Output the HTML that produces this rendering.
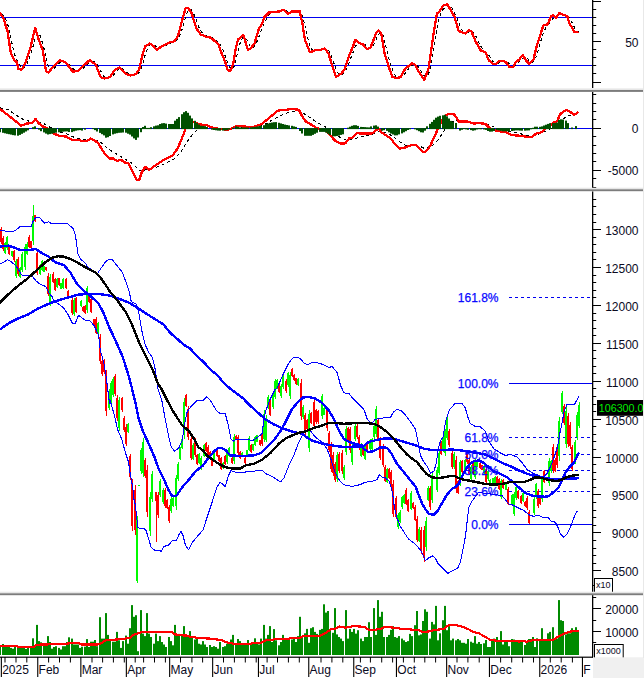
<!DOCTYPE html><html><head><meta charset="utf-8"><title>Chart</title><style>html,body{margin:0;padding:0;background:#fff;overflow:hidden}svg{display:block;position:absolute;left:0;top:0}</style></head><body><svg width="644" height="678" viewBox="0 0 644 678">
<rect width="644" height="678" fill="#fff"/>
<g clip-path="url(#c1)">
<defs><clipPath id="c1"><rect x="0" y="0" width="592" height="88"/></clipPath><clipPath id="c2"><rect x="0" y="92" width="592" height="96"/></clipPath><clipPath id="c3"><rect x="0" y="192" width="592" height="400"/></clipPath><clipPath id="c4"><rect x="0" y="596" width="592" height="60"/></clipPath></defs>
<line x1="0" y1="17.5" x2="592" y2="17.5" stroke="#0000f0" stroke-width="1"/>
<line x1="0" y1="65.5" x2="592" y2="65.5" stroke="#0000f0" stroke-width="1"/>
<path d="M1.1,14.0 L3.3,15.8 L5.4,18.4 L7.6,23.9 L9.7,32.6 L11.9,43.1 L14.0,52.7 L16.2,58.6 L18.4,62.7 L20.5,66.1 L22.7,68.5 L24.8,67.6 L27.0,64.2 L29.1,58.9 L31.3,52.4 L33.5,44.7 L35.6,36.5 L37.8,33.3 L39.9,35.2 L42.1,41.7 L44.2,49.1 L46.4,58.8 L48.6,67.0 L50.7,71.2 L52.9,70.0 L55.0,67.6 L57.2,65.3 L59.3,63.0 L61.5,61.6 L63.7,61.1 L65.8,61.5 L68.0,62.9 L70.1,65.0 L72.3,67.8 L74.4,70.0 L76.6,71.1 L78.8,71.0 L80.9,70.0 L83.1,68.4 L85.2,66.4 L87.4,64.4 L89.5,62.4 L91.7,61.4 L93.9,61.6 L96.0,63.1 L98.2,66.0 L100.3,70.3 L102.5,74.5 L104.6,77.2 L106.8,78.0 L108.9,78.0 L111.1,77.2 L113.3,75.3 L115.4,72.8 L117.6,70.4 L119.7,68.7 L121.9,68.6 L124.0,69.8 L126.2,71.9 L128.4,73.5 L130.5,74.6 L132.7,75.0 L134.8,75.0 L137.0,74.2 L139.1,72.4 L141.3,68.0 L143.5,61.3 L145.6,53.4 L147.8,48.0 L149.9,44.9 L152.1,44.5 L154.2,45.0 L156.4,46.8 L158.6,48.1 L160.7,48.3 L162.9,47.2 L165.0,45.9 L167.2,44.8 L169.3,43.7 L171.5,42.9 L173.7,42.1 L175.8,41.1 L178.0,39.2 L180.1,35.1 L182.3,28.8 L184.4,21.1 L186.6,14.1 L188.8,10.0 L190.9,9.5 L193.1,12.4 L195.2,17.4 L197.4,23.4 L199.5,28.6 L201.7,32.2 L203.9,34.3 L206.0,35.7 L208.2,36.4 L210.3,37.1 L212.5,37.8 L214.6,39.0 L216.8,40.8 L219.0,42.9 L221.1,46.3 L223.3,50.9 L225.4,56.5 L227.6,62.5 L229.7,67.1 L231.9,69.3 L234.1,66.4 L236.2,58.8 L238.4,49.3 L240.5,41.7 L242.7,37.7 L244.8,37.4 L247.0,40.1 L249.2,44.7 L251.3,47.7 L253.5,47.4 L255.6,44.6 L257.8,39.8 L259.9,34.0 L262.1,28.3 L264.3,23.3 L266.4,19.2 L268.6,15.6 L270.7,13.6 L272.9,12.6 L275.0,12.2 L277.2,12.0 L279.4,11.7 L281.5,11.3 L283.7,10.7 L285.8,10.7 L288.0,11.6 L290.1,12.5 L292.3,12.6 L294.5,11.9 L296.6,11.4 L298.8,11.4 L300.9,12.7 L303.1,17.5 L305.2,27.0 L307.4,37.0 L309.6,45.2 L311.7,49.2 L313.9,51.0 L316.0,50.9 L318.2,50.4 L320.3,50.2 L322.5,49.9 L324.7,49.4 L326.8,49.6 L329.0,51.2 L331.1,55.4 L333.3,61.1 L335.4,67.8 L337.6,72.7 L339.7,75.0 L341.9,74.6 L344.1,72.7 L346.2,69.5 L348.4,64.7 L350.5,58.9 L352.7,53.2 L354.8,47.7 L357.0,43.7 L359.2,42.0 L361.3,42.5 L363.5,43.8 L365.6,45.2 L367.8,46.9 L369.9,48.0 L372.1,47.1 L374.3,43.8 L376.4,38.8 L378.6,34.4 L380.7,32.2 L382.9,34.9 L385.0,42.5 L387.2,51.9 L389.4,60.7 L391.5,67.4 L393.7,72.9 L395.8,76.3 L398.0,77.5 L400.1,77.6 L402.3,76.5 L404.5,74.1 L406.6,71.1 L408.8,68.3 L410.9,66.1 L413.1,64.7 L415.2,64.2 L417.4,65.7 L419.6,68.6 L421.7,72.3 L423.9,75.6 L426.0,76.7 L428.2,75.0 L430.3,68.2 L432.5,57.3 L434.7,43.4 L436.8,29.3 L439.0,18.9 L441.1,12.4 L443.3,9.1 L445.4,6.7 L447.6,5.1 L449.8,5.8 L451.9,8.1 L454.1,11.7 L456.2,16.2 L458.4,22.0 L460.5,27.4 L462.7,31.0 L464.9,32.4 L467.0,32.6 L469.2,31.9 L471.3,31.1 L473.5,32.2 L475.6,35.7 L477.8,40.3 L480.0,44.7 L482.1,48.1 L484.3,50.4 L486.4,52.1 L488.6,54.8 L490.7,58.1 L492.9,61.3 L495.1,62.9 L497.2,63.4 L499.4,62.7 L501.5,61.8 L503.7,61.0 L505.8,61.3 L508.0,62.5 L510.2,64.4 L512.3,65.9 L514.5,66.2 L516.6,64.5 L518.8,62.4 L520.9,59.8 L523.1,57.7 L525.3,57.2 L527.4,58.5 L529.6,61.3 L531.7,62.3 L533.9,61.5 L536.0,57.0 L538.2,50.5 L540.3,42.7 L542.5,35.6 L544.7,29.9 L546.8,26.3 L549.0,24.0 L551.1,21.2 L553.3,18.2 L555.4,16.4 L557.6,16.2 L559.8,15.4 L561.9,14.5 L564.1,14.1 L566.2,14.9 L568.4,16.5 L570.5,19.7 L572.7,24.0 L574.9,28.4 L577.0,30.9 L579.2,32.0" fill="none" stroke="#000" stroke-width="1.05" stroke-dasharray="3,3" shape-rendering="crispEdges"/>
<path d="M0.0,12.6 L3.4,18.4 L7.5,31.0 L10.9,53.7 L14.3,60.4 L16.8,62.0 L18.4,69.0 L21.8,69.6 L25.2,63.7 L30.2,48.6 L35.2,27.7 L38.6,39.4 L42.8,50.3 L46.1,71.3 L48.6,72.4 L53.7,66.2 L59.5,60.4 L65.4,62.0 L72.9,71.8 L78.0,70.8 L83.9,65.4 L89.7,60.0 L95.6,64.6 L100.6,77.1 L104.8,78.5 L110.1,77.1 L114.3,70.4 L119.3,67.4 L125.2,73.5 L130.2,75.5 L136.1,74.1 L139.4,68.8 L141.9,57.0 L145.3,46.1 L149.8,43.6 L153.7,46.1 L156.7,49.8 L162.0,46.1 L168.8,42.8 L174.6,41.1 L178.0,36.0 L182.2,20.1 L185.5,8.4 L188.0,8.0 L191.4,12.6 L196.4,28.5 L200.6,34.4 L205.7,36.6 L210.9,37.7 L218.4,44.4 L221.8,53.7 L225.2,62.0 L227.7,70.4 L231.0,70.4 L233.5,62.0 L236.0,47.0 L238.2,39.4 L243.3,34.9 L245.3,41.1 L247.8,49.8 L250.3,48.6 L254.5,43.6 L258.7,29.3 L262.0,23.5 L264.6,16.8 L268.8,12.6 L273.8,12.1 L279.7,11.4 L283.9,9.7 L288.0,13.8 L292.2,11.4 L299.8,11.4 L302.4,23.5 L305.0,40.2 L310.0,52.3 L315.9,50.0 L320.1,50.3 L324.7,48.3 L328.5,53.7 L332.7,67.1 L336.0,76.8 L341.0,73.8 L344.4,69.6 L348.6,57.0 L352.8,47.0 L355.3,39.9 L358.7,42.8 L362.9,44.4 L367.0,49.0 L370.4,47.8 L373.8,39.4 L376.3,32.7 L378.8,30.5 L381.3,33.5 L384.7,53.7 L388.9,67.1 L392.2,76.8 L396.4,78.0 L400.6,77.1 L405.0,69.1 L411.7,63.4 L415.1,64.6 L418.4,71.3 L424.3,79.7 L428.5,68.8 L431.9,45.3 L434.4,28.5 L436.9,13.4 L439.4,11.7 L442.8,5.9 L447.0,4.2 L450.3,9.2 L454.5,16.8 L458.7,31.0 L465.4,33.5 L468.8,30.2 L471.3,31.0 L475.5,41.1 L480.5,50.3 L485.5,52.3 L488.9,60.4 L493.1,63.7 L496.4,63.7 L498.9,61.2 L503.1,60.7 L506.7,62.9 L509.2,66.7 L513.4,66.7 L515.9,62.0 L519.3,59.5 L522.6,55.0 L526.0,60.4 L529.3,63.7 L533.5,59.5 L536.9,45.3 L540.2,35.2 L543.3,25.5 L547.8,24.3 L551.2,15.9 L552.8,15.4 L556.2,17.6 L559.5,13.1 L562.9,14.8 L567.1,15.9 L569.6,23.5 L574.6,32.2 L578.5,31.9" fill="none" stroke="#ff0000" stroke-width="2.3" stroke-linejoin="round" shape-rendering="crispEdges"/>
</g>
<g clip-path="url(#c2)">
<line x1="0" y1="128.5" x2="592" y2="128.5" stroke="#0000f0" stroke-width="1"/>
<path d="M0.0,107.8 L8.4,109.8 L16.8,115.7 L25.2,120.7 L33.5,121.5 L41.9,122.4 L50.3,127.4 L58.7,131.6 L67.1,134.1 L75.5,138.0 L83.9,139.7 L92.2,139.2 L100.0,141.7 L108.4,149.2 L116.8,154.2 L125.2,159.3 L133.5,164.3 L140.2,171.0 L145.3,169.8 L153.7,168.5 L163.7,164.3 L173.8,159.3 L180.5,152.6 L187.2,141.7 L192.2,135.0 L196.4,130.8 L200.6,127.9 L210.0,127.4 L220.0,128.2 L230.2,129.1 L238.6,127.4 L250.3,126.9 L260.4,126.2 L267.1,123.2 L273.8,119.0 L280.5,115.7 L287.2,112.8 L293.9,111.1 L300.6,111.5 L308.4,116.5 L316.8,122.4 L323.5,125.7 L331.9,130.8 L340.2,137.5 L347.0,140.3 L353.7,139.2 L360.4,136.6 L370.4,135.3 L377.1,131.9 L383.9,131.9 L392.2,135.8 L400.6,142.5 L406.7,145.9 L416.8,145.0 L425.2,148.7 L431.9,145.9 L438.6,139.2 L445.3,129.1 L450.3,122.4 L455.3,120.2 L463.7,121.2 L473.8,122.4 L485.5,123.2 L492.2,126.2 L500.6,129.6 L508.4,131.6 L516.8,132.9 L526.8,135.3 L535.2,135.0 L541.9,132.9 L548.6,130.0 L555.3,125.7 L562.0,119.9 L567.1,116.2 L572.1,114.8 L577.1,114.5" fill="none" stroke="#000" stroke-width="1.05" stroke-dasharray="3,3" shape-rendering="crispEdges"/>
<path d="M0.0,109.0 L7.5,114.8 L15.1,120.7 L21.0,125.7 L26.8,123.6 L31.9,122.9 L35.6,119.0 L38.6,123.2 L43.6,126.9 L48.6,129.1 L53.7,133.6 L59.5,135.8 L66.2,136.6 L72.1,140.0 L78.8,140.0 L82.2,141.3 L87.2,140.8 L90.6,138.6 L93.9,140.0 L98.1,143.0 L102.3,150.0 L105.0,154.2 L109.2,158.4 L113.4,158.4 L116.8,161.0 L121.0,159.8 L125.2,162.6 L128.5,163.5 L132.7,171.9 L136.9,179.9 L139.4,179.4 L141.9,171.9 L145.3,166.8 L149.5,169.8 L154.5,166.0 L159.5,162.6 L164.6,159.3 L168.8,157.6 L173.0,155.1 L177.1,149.2 L181.3,140.0 L183.9,133.3 L185.5,128.2 L187.2,124.0 L190.0,121.0 L193.9,122.4 L199.8,124.5 L205.9,124.9 L211.7,127.4 L220.1,129.1 L227.7,129.6 L232.7,128.2 L236.9,125.7 L243.6,126.6 L253.7,126.9 L262.0,124.0 L268.8,118.2 L278.0,110.6 L285.5,109.8 L292.2,109.0 L298.9,109.8 L302.3,116.5 L305.9,121.5 L311.7,124.9 L316.8,128.2 L325.2,130.5 L328.5,133.3 L335.2,140.8 L341.1,143.7 L345.3,143.3 L349.5,138.0 L352.8,137.5 L357.0,133.3 L367.1,133.6 L373.0,133.3 L376.3,129.6 L378.8,129.1 L382.2,132.9 L390.6,138.3 L395.6,145.0 L399.8,148.7 L405.0,147.5 L411.7,145.0 L415.9,145.0 L420.1,149.2 L423.5,152.1 L426.0,151.4 L430.2,145.9 L434.4,136.6 L438.6,127.4 L442.0,120.0 L446.1,114.8 L449.5,114.0 L454.5,114.5 L458.7,121.5 L467.1,121.5 L473.8,123.6 L478.8,122.9 L485.5,124.0 L490.6,129.1 L495.6,130.5 L502.3,131.9 L506.7,132.4 L511.7,135.0 L520.1,135.8 L528.5,137.0 L532.7,136.6 L536.0,133.6 L541.1,132.4 L544.4,129.6 L549.0,126.0 L553.7,122.4 L557.0,121.2 L560.4,114.0 L566.2,109.8 L569.6,111.5 L573.8,114.5 L576.3,114.0 L578.5,111.8" fill="none" stroke="#ff0000" stroke-width="2.3" stroke-linejoin="round" shape-rendering="crispEdges"/>
<rect x="-1" y="128.1" width="2" height="4.1" fill="#005000"/>
<rect x="2" y="128.1" width="2" height="4.7" fill="#005000"/>
<rect x="4" y="128.1" width="2" height="5.2" fill="#005000"/>
<rect x="6" y="128.1" width="2" height="5.7" fill="#005000"/>
<rect x="8" y="128.1" width="2" height="6.1" fill="#005000"/>
<rect x="10" y="128.1" width="2" height="6.5" fill="#005000"/>
<rect x="12" y="128.1" width="2" height="7.0" fill="#005000"/>
<rect x="14" y="128.1" width="2" height="7.3" fill="#005000"/>
<rect x="17" y="128.1" width="2" height="7.6" fill="#005000"/>
<rect x="19" y="128.1" width="2" height="6.8" fill="#005000"/>
<rect x="21" y="128.1" width="2" height="5.7" fill="#005000"/>
<rect x="23" y="128.1" width="2" height="4.6" fill="#005000"/>
<rect x="25" y="128.1" width="2" height="3.4" fill="#005000"/>
<rect x="27" y="128.1" width="2" height="2.2" fill="#005000"/>
<rect x="32" y="127.2" width="2" height="1.9" fill="#005000"/>
<rect x="34" y="126.3" width="2" height="2.8" fill="#005000"/>
<rect x="38" y="128.1" width="2" height="1.6" fill="#005000"/>
<rect x="40" y="128.1" width="2" height="3.1" fill="#005000"/>
<rect x="43" y="128.1" width="2" height="4.3" fill="#005000"/>
<rect x="45" y="128.1" width="2" height="5.5" fill="#005000"/>
<rect x="47" y="128.1" width="2" height="6.4" fill="#005000"/>
<rect x="49" y="128.1" width="2" height="6.0" fill="#005000"/>
<rect x="51" y="128.1" width="2" height="5.6" fill="#005000"/>
<rect x="53" y="128.1" width="2" height="5.1" fill="#005000"/>
<rect x="55" y="128.1" width="2" height="4.6" fill="#005000"/>
<rect x="58" y="128.1" width="2" height="4.2" fill="#005000"/>
<rect x="60" y="128.1" width="2" height="3.9" fill="#005000"/>
<rect x="62" y="128.1" width="2" height="3.6" fill="#005000"/>
<rect x="64" y="128.1" width="2" height="3.4" fill="#005000"/>
<rect x="66" y="128.1" width="2" height="3.3" fill="#005000"/>
<rect x="68" y="128.1" width="2" height="3.9" fill="#005000"/>
<rect x="71" y="128.1" width="2" height="4.0" fill="#005000"/>
<rect x="73" y="128.1" width="2" height="3.2" fill="#005000"/>
<rect x="75" y="128.1" width="2" height="2.6" fill="#005000"/>
<rect x="77" y="128.1" width="2" height="2.2" fill="#005000"/>
<rect x="79" y="128.1" width="2" height="2.0" fill="#005000"/>
<rect x="81" y="128.1" width="2" height="2.5" fill="#005000"/>
<rect x="84" y="128.1" width="2" height="1.6" fill="#005000"/>
<rect x="92" y="128.1" width="2" height="1.0" fill="#005000"/>
<rect x="94" y="128.1" width="2" height="2.0" fill="#005000"/>
<rect x="96" y="128.1" width="2" height="3.4" fill="#005000"/>
<rect x="99" y="128.1" width="2" height="4.8" fill="#005000"/>
<rect x="101" y="128.1" width="2" height="6.1" fill="#005000"/>
<rect x="103" y="128.1" width="2" height="7.3" fill="#005000"/>
<rect x="105" y="128.1" width="2" height="9.6" fill="#005000"/>
<rect x="107" y="128.1" width="2" height="9.1" fill="#005000"/>
<rect x="109" y="128.1" width="2" height="7.9" fill="#005000"/>
<rect x="112" y="128.1" width="2" height="6.3" fill="#005000"/>
<rect x="114" y="128.1" width="2" height="5.6" fill="#005000"/>
<rect x="116" y="128.1" width="2" height="5.1" fill="#005000"/>
<rect x="118" y="128.1" width="2" height="4.7" fill="#005000"/>
<rect x="120" y="128.1" width="2" height="4.6" fill="#005000"/>
<rect x="122" y="128.1" width="2" height="4.4" fill="#005000"/>
<rect x="125" y="128.1" width="2" height="4.6" fill="#005000"/>
<rect x="127" y="128.1" width="2" height="5.6" fill="#005000"/>
<rect x="129" y="128.1" width="2" height="6.5" fill="#005000"/>
<rect x="131" y="128.1" width="2" height="8.4" fill="#005000"/>
<rect x="133" y="128.1" width="2" height="10.3" fill="#005000"/>
<rect x="135" y="128.1" width="2" height="11.8" fill="#005000"/>
<rect x="137" y="128.1" width="2" height="9.4" fill="#005000"/>
<rect x="140" y="128.1" width="2" height="4.1" fill="#005000"/>
<rect x="142" y="127.0" width="2" height="2.1" fill="#005000"/>
<rect x="144" y="125.8" width="2" height="3.3" fill="#005000"/>
<rect x="146" y="127.9" width="2" height="1.2" fill="#005000"/>
<rect x="148" y="127.9" width="2" height="1.2" fill="#005000"/>
<rect x="150" y="127.2" width="2" height="1.9" fill="#005000"/>
<rect x="153" y="126.3" width="2" height="2.8" fill="#005000"/>
<rect x="155" y="125.6" width="2" height="3.5" fill="#005000"/>
<rect x="157" y="125.3" width="2" height="3.8" fill="#005000"/>
<rect x="159" y="124.0" width="2" height="5.1" fill="#005000"/>
<rect x="161" y="123.3" width="2" height="5.8" fill="#005000"/>
<rect x="163" y="123.1" width="2" height="6.0" fill="#005000"/>
<rect x="165" y="123.6" width="2" height="5.5" fill="#005000"/>
<rect x="168" y="124.0" width="2" height="5.1" fill="#005000"/>
<rect x="170" y="124.0" width="2" height="5.1" fill="#005000"/>
<rect x="172" y="124.0" width="2" height="5.1" fill="#005000"/>
<rect x="174" y="120.7" width="2" height="8.4" fill="#005000"/>
<rect x="176" y="118.9" width="2" height="10.2" fill="#005000"/>
<rect x="178" y="117.1" width="2" height="12.0" fill="#005000"/>
<rect x="181" y="114.2" width="2" height="14.9" fill="#005000"/>
<rect x="183" y="112.2" width="2" height="16.9" fill="#005000"/>
<rect x="185" y="111.1" width="2" height="18.0" fill="#005000"/>
<rect x="187" y="112.8" width="2" height="16.3" fill="#005000"/>
<rect x="189" y="115.6" width="2" height="13.5" fill="#005000"/>
<rect x="191" y="118.4" width="2" height="10.7" fill="#005000"/>
<rect x="194" y="120.8" width="2" height="8.3" fill="#005000"/>
<rect x="196" y="122.9" width="2" height="6.2" fill="#005000"/>
<rect x="198" y="124.5" width="2" height="4.6" fill="#005000"/>
<rect x="200" y="125.8" width="2" height="3.3" fill="#005000"/>
<rect x="202" y="125.9" width="2" height="3.2" fill="#005000"/>
<rect x="204" y="126.1" width="2" height="3.0" fill="#005000"/>
<rect x="206" y="127.1" width="2" height="2.0" fill="#005000"/>
<rect x="211" y="128.1" width="2" height="1.6" fill="#005000"/>
<rect x="213" y="128.1" width="2" height="1.9" fill="#005000"/>
<rect x="215" y="128.1" width="2" height="2.2" fill="#005000"/>
<rect x="217" y="128.1" width="2" height="2.5" fill="#005000"/>
<rect x="219" y="128.1" width="2" height="2.6" fill="#005000"/>
<rect x="222" y="128.1" width="2" height="2.5" fill="#005000"/>
<rect x="224" y="128.1" width="2" height="2.3" fill="#005000"/>
<rect x="226" y="128.1" width="2" height="2.1" fill="#005000"/>
<rect x="228" y="128.1" width="2" height="1.4" fill="#005000"/>
<rect x="232" y="127.7" width="2" height="1.4" fill="#005000"/>
<rect x="235" y="126.3" width="2" height="2.8" fill="#005000"/>
<rect x="237" y="126.8" width="2" height="2.3" fill="#005000"/>
<rect x="239" y="127.4" width="2" height="1.7" fill="#005000"/>
<rect x="241" y="127.4" width="2" height="1.7" fill="#005000"/>
<rect x="243" y="127.4" width="2" height="1.7" fill="#005000"/>
<rect x="245" y="127.4" width="2" height="1.7" fill="#005000"/>
<rect x="247" y="127.4" width="2" height="1.7" fill="#005000"/>
<rect x="250" y="127.3" width="2" height="1.8" fill="#005000"/>
<rect x="252" y="127.1" width="2" height="2.0" fill="#005000"/>
<rect x="254" y="126.8" width="2" height="2.3" fill="#005000"/>
<rect x="256" y="126.5" width="2" height="2.6" fill="#005000"/>
<rect x="258" y="126.2" width="2" height="2.9" fill="#005000"/>
<rect x="260" y="125.9" width="2" height="3.2" fill="#005000"/>
<rect x="263" y="125.2" width="2" height="3.9" fill="#005000"/>
<rect x="265" y="124.0" width="2" height="5.1" fill="#005000"/>
<rect x="267" y="123.5" width="2" height="5.6" fill="#005000"/>
<rect x="269" y="122.9" width="2" height="6.2" fill="#005000"/>
<rect x="271" y="122.5" width="2" height="6.6" fill="#005000"/>
<rect x="273" y="122.2" width="2" height="6.9" fill="#005000"/>
<rect x="275" y="122.1" width="2" height="7.0" fill="#005000"/>
<rect x="278" y="122.8" width="2" height="6.3" fill="#005000"/>
<rect x="280" y="123.4" width="2" height="5.7" fill="#005000"/>
<rect x="282" y="124.0" width="2" height="5.1" fill="#005000"/>
<rect x="284" y="124.6" width="2" height="4.5" fill="#005000"/>
<rect x="286" y="125.0" width="2" height="4.1" fill="#005000"/>
<rect x="288" y="125.4" width="2" height="3.7" fill="#005000"/>
<rect x="291" y="125.8" width="2" height="3.3" fill="#005000"/>
<rect x="293" y="126.4" width="2" height="2.7" fill="#005000"/>
<rect x="295" y="126.9" width="2" height="2.2" fill="#005000"/>
<rect x="299" y="128.1" width="2" height="2.9" fill="#005000"/>
<rect x="301" y="128.1" width="2" height="5.4" fill="#005000"/>
<rect x="304" y="128.1" width="2" height="7.7" fill="#005000"/>
<rect x="306" y="128.1" width="2" height="7.7" fill="#005000"/>
<rect x="308" y="128.1" width="2" height="7.7" fill="#005000"/>
<rect x="310" y="128.1" width="2" height="7.7" fill="#005000"/>
<rect x="312" y="128.1" width="2" height="6.8" fill="#005000"/>
<rect x="314" y="128.1" width="2" height="5.7" fill="#005000"/>
<rect x="316" y="128.1" width="2" height="4.6" fill="#005000"/>
<rect x="319" y="128.1" width="2" height="3.8" fill="#005000"/>
<rect x="321" y="128.1" width="2" height="3.8" fill="#005000"/>
<rect x="323" y="128.1" width="2" height="3.8" fill="#005000"/>
<rect x="325" y="128.1" width="2" height="4.5" fill="#005000"/>
<rect x="327" y="128.1" width="2" height="5.7" fill="#005000"/>
<rect x="329" y="128.1" width="2" height="6.9" fill="#005000"/>
<rect x="332" y="128.1" width="2" height="8.2" fill="#005000"/>
<rect x="334" y="128.1" width="2" height="8.2" fill="#005000"/>
<rect x="336" y="128.1" width="2" height="7.9" fill="#005000"/>
<rect x="338" y="128.1" width="2" height="7.5" fill="#005000"/>
<rect x="340" y="128.1" width="2" height="6.8" fill="#005000"/>
<rect x="342" y="128.1" width="2" height="6.2" fill="#005000"/>
<rect x="347" y="127.7" width="2" height="1.4" fill="#005000"/>
<rect x="349" y="126.7" width="2" height="2.4" fill="#005000"/>
<rect x="351" y="125.8" width="2" height="3.3" fill="#005000"/>
<rect x="353" y="125.2" width="2" height="3.9" fill="#005000"/>
<rect x="355" y="125.2" width="2" height="3.9" fill="#005000"/>
<rect x="357" y="125.9" width="2" height="3.2" fill="#005000"/>
<rect x="360" y="126.9" width="2" height="2.2" fill="#005000"/>
<rect x="362" y="127.0" width="2" height="2.1" fill="#005000"/>
<rect x="364" y="127.1" width="2" height="2.0" fill="#005000"/>
<rect x="366" y="127.3" width="2" height="1.8" fill="#005000"/>
<rect x="368" y="127.4" width="2" height="1.7" fill="#005000"/>
<rect x="370" y="126.4" width="2" height="2.7" fill="#005000"/>
<rect x="373" y="125.6" width="2" height="3.5" fill="#005000"/>
<rect x="375" y="125.3" width="2" height="3.8" fill="#005000"/>
<rect x="377" y="126.6" width="2" height="2.5" fill="#005000"/>
<rect x="381" y="128.1" width="2" height="2.6" fill="#005000"/>
<rect x="383" y="128.1" width="2" height="2.1" fill="#005000"/>
<rect x="386" y="128.1" width="2" height="2.8" fill="#005000"/>
<rect x="388" y="128.1" width="2" height="4.2" fill="#005000"/>
<rect x="390" y="128.1" width="2" height="5.5" fill="#005000"/>
<rect x="392" y="128.1" width="2" height="6.4" fill="#005000"/>
<rect x="394" y="128.1" width="2" height="7.3" fill="#005000"/>
<rect x="396" y="128.1" width="2" height="7.2" fill="#005000"/>
<rect x="398" y="128.1" width="2" height="6.3" fill="#005000"/>
<rect x="401" y="128.1" width="2" height="5.3" fill="#005000"/>
<rect x="403" y="128.1" width="2" height="4.2" fill="#005000"/>
<rect x="405" y="128.1" width="2" height="3.1" fill="#005000"/>
<rect x="407" y="128.1" width="2" height="1.9" fill="#005000"/>
<rect x="409" y="128.1" width="2" height="1.2" fill="#005000"/>
<rect x="414" y="128.1" width="2" height="1.2" fill="#005000"/>
<rect x="416" y="128.1" width="2" height="2.1" fill="#005000"/>
<rect x="418" y="128.1" width="2" height="3.1" fill="#005000"/>
<rect x="420" y="128.1" width="2" height="4.2" fill="#005000"/>
<rect x="422" y="128.1" width="2" height="4.4" fill="#005000"/>
<rect x="424" y="128.1" width="2" height="2.6" fill="#005000"/>
<rect x="426" y="126.3" width="2" height="2.8" fill="#005000"/>
<rect x="429" y="123.8" width="2" height="5.3" fill="#005000"/>
<rect x="431" y="121.9" width="2" height="7.2" fill="#005000"/>
<rect x="433" y="119.8" width="2" height="9.3" fill="#005000"/>
<rect x="435" y="117.7" width="2" height="11.4" fill="#005000"/>
<rect x="437" y="116.6" width="2" height="12.5" fill="#005000"/>
<rect x="439" y="115.8" width="2" height="13.3" fill="#005000"/>
<rect x="442" y="115.3" width="2" height="13.8" fill="#005000"/>
<rect x="444" y="114.8" width="2" height="14.3" fill="#005000"/>
<rect x="446" y="116.3" width="2" height="12.8" fill="#005000"/>
<rect x="448" y="118.5" width="2" height="10.6" fill="#005000"/>
<rect x="450" y="120.9" width="2" height="8.2" fill="#005000"/>
<rect x="452" y="121.9" width="2" height="7.2" fill="#005000"/>
<rect x="455" y="123.0" width="2" height="6.1" fill="#005000"/>
<rect x="459" y="128.1" width="2" height="2.5" fill="#005000"/>
<rect x="461" y="128.1" width="2" height="1.7" fill="#005000"/>
<rect x="463" y="128.1" width="2" height="1.0" fill="#005000"/>
<rect x="465" y="128.1" width="2" height="1.3" fill="#005000"/>
<rect x="467" y="128.1" width="2" height="1.7" fill="#005000"/>
<rect x="470" y="128.1" width="2" height="2.0" fill="#005000"/>
<rect x="472" y="128.1" width="2" height="2.6" fill="#005000"/>
<rect x="474" y="128.1" width="2" height="2.2" fill="#005000"/>
<rect x="476" y="128.1" width="2" height="1.4" fill="#005000"/>
<rect x="478" y="128.1" width="2" height="1.1" fill="#005000"/>
<rect x="480" y="128.1" width="2" height="1.2" fill="#005000"/>
<rect x="483" y="128.1" width="2" height="1.4" fill="#005000"/>
<rect x="485" y="128.1" width="2" height="1.8" fill="#005000"/>
<rect x="487" y="128.1" width="2" height="2.9" fill="#005000"/>
<rect x="489" y="128.1" width="2" height="3.6" fill="#005000"/>
<rect x="491" y="128.1" width="2" height="3.5" fill="#005000"/>
<rect x="493" y="128.1" width="2" height="2.9" fill="#005000"/>
<rect x="496" y="128.1" width="2" height="2.0" fill="#005000"/>
<rect x="498" y="128.1" width="2" height="2.3" fill="#005000"/>
<rect x="500" y="128.1" width="2" height="2.8" fill="#005000"/>
<rect x="502" y="128.1" width="2" height="3.2" fill="#005000"/>
<rect x="504" y="128.1" width="2" height="3.2" fill="#005000"/>
<rect x="506" y="128.1" width="2" height="3.2" fill="#005000"/>
<rect x="508" y="128.1" width="2" height="3.2" fill="#005000"/>
<rect x="511" y="128.1" width="2" height="2.9" fill="#005000"/>
<rect x="513" y="128.1" width="2" height="2.6" fill="#005000"/>
<rect x="515" y="128.1" width="2" height="2.3" fill="#005000"/>
<rect x="517" y="128.1" width="2" height="2.3" fill="#005000"/>
<rect x="519" y="128.1" width="2" height="2.5" fill="#005000"/>
<rect x="521" y="128.1" width="2" height="2.6" fill="#005000"/>
<rect x="524" y="128.1" width="2" height="2.6" fill="#005000"/>
<rect x="526" y="128.1" width="2" height="2.4" fill="#005000"/>
<rect x="528" y="128.1" width="2" height="2.3" fill="#005000"/>
<rect x="530" y="128.1" width="2" height="1.2" fill="#005000"/>
<rect x="532" y="127.8" width="2" height="1.3" fill="#005000"/>
<rect x="534" y="126.7" width="2" height="2.4" fill="#005000"/>
<rect x="536" y="126.7" width="2" height="2.4" fill="#005000"/>
<rect x="539" y="126.8" width="2" height="2.3" fill="#005000"/>
<rect x="541" y="126.4" width="2" height="2.7" fill="#005000"/>
<rect x="543" y="125.5" width="2" height="3.6" fill="#005000"/>
<rect x="545" y="124.7" width="2" height="4.4" fill="#005000"/>
<rect x="547" y="123.9" width="2" height="5.2" fill="#005000"/>
<rect x="549" y="123.2" width="2" height="5.9" fill="#005000"/>
<rect x="552" y="123.1" width="2" height="6.0" fill="#005000"/>
<rect x="554" y="123.0" width="2" height="6.1" fill="#005000"/>
<rect x="556" y="122.5" width="2" height="6.6" fill="#005000"/>
<rect x="558" y="119.9" width="2" height="9.2" fill="#005000"/>
<rect x="560" y="119.3" width="2" height="9.8" fill="#005000"/>
<rect x="562" y="119.5" width="2" height="9.6" fill="#005000"/>
<rect x="565" y="120.6" width="2" height="8.5" fill="#005000"/>
<rect x="567" y="123.1" width="2" height="6.0" fill="#005000"/>
<rect x="571" y="127.5" width="2" height="1.6" fill="#005000"/>
<rect x="575" y="126.1" width="2" height="3.0" fill="#005000"/>
</g>
<g clip-path="url(#c3)">
<line x1="509" y1="297.5" x2="592" y2="297.5" stroke="#0000f0" stroke-width="1" stroke-dasharray="3,3"/>
<line x1="509" y1="383.5" x2="592" y2="383.5" stroke="#0000f0" stroke-width="1"/>
<line x1="509" y1="437.5" x2="592" y2="437.5" stroke="#0000f0" stroke-width="1" stroke-dasharray="3,3"/>
<line x1="509" y1="454.5" x2="592" y2="454.5" stroke="#0000f0" stroke-width="1" stroke-dasharray="3,3"/>
<line x1="509" y1="470.5" x2="592" y2="470.5" stroke="#0000f0" stroke-width="1" stroke-dasharray="3,3"/>
<line x1="509" y1="491.5" x2="592" y2="491.5" stroke="#0000f0" stroke-width="1" stroke-dasharray="3,3"/>
<line x1="509" y1="524.5" x2="592" y2="524.5" stroke="#0000f0" stroke-width="1"/>
<rect x="1" y="227" width="1" height="17" fill="#ff0000"/>
<rect x="0" y="229" width="2" height="13" fill="#ff0000"/>
<rect x="3" y="236" width="1" height="15" fill="#ff0000"/>
<rect x="2" y="238" width="2" height="11" fill="#ff0000"/>
<rect x="5" y="242" width="1" height="12" fill="#00fa00"/>
<rect x="4" y="243" width="2" height="10" fill="#00fa00"/>
<rect x="7" y="236" width="1" height="14" fill="#00fa00"/>
<rect x="6" y="237" width="2" height="11" fill="#00fa00"/>
<rect x="9" y="246" width="1" height="9" fill="#ff0000"/>
<rect x="8" y="247" width="2" height="7" fill="#ff0000"/>
<rect x="12" y="251" width="1" height="6" fill="#00fa00"/>
<rect x="11" y="251" width="2" height="5" fill="#00fa00"/>
<rect x="14" y="250" width="1" height="12" fill="#ff0000"/>
<rect x="13" y="251" width="2" height="9" fill="#ff0000"/>
<rect x="16" y="259" width="1" height="19" fill="#00fa00"/>
<rect x="15" y="261" width="2" height="15" fill="#00fa00"/>
<rect x="18" y="257" width="1" height="19" fill="#ff0000"/>
<rect x="17" y="259" width="2" height="15" fill="#ff0000"/>
<rect x="20" y="267" width="1" height="11" fill="#00fa00"/>
<rect x="19" y="268" width="2" height="9" fill="#00fa00"/>
<rect x="22" y="252" width="1" height="20" fill="#00fa00"/>
<rect x="21" y="254" width="2" height="16" fill="#00fa00"/>
<rect x="25" y="244" width="1" height="26" fill="#00fa00"/>
<rect x="24" y="247" width="2" height="20" fill="#00fa00"/>
<rect x="27" y="242" width="1" height="13" fill="#00fa00"/>
<rect x="26" y="244" width="2" height="10" fill="#00fa00"/>
<rect x="29" y="235" width="1" height="13" fill="#ff0000"/>
<rect x="28" y="237" width="2" height="10" fill="#ff0000"/>
<rect x="31" y="241" width="1" height="8" fill="#ff0000"/>
<rect x="30" y="241" width="2" height="7" fill="#ff0000"/>
<rect x="33" y="205" width="1" height="40" fill="#00fa00"/>
<rect x="32" y="216" width="2" height="25" fill="#00fa00"/>
<rect x="35" y="215" width="1" height="7" fill="#ff0000"/>
<rect x="34" y="215" width="2" height="6" fill="#ff0000"/>
<rect x="37" y="251" width="1" height="24" fill="#ff0000"/>
<rect x="36" y="253" width="2" height="20" fill="#ff0000"/>
<rect x="40" y="264" width="1" height="11" fill="#00fa00"/>
<rect x="39" y="265" width="2" height="9" fill="#00fa00"/>
<rect x="42" y="260" width="1" height="11" fill="#00fa00"/>
<rect x="41" y="261" width="2" height="9" fill="#00fa00"/>
<rect x="44" y="266" width="1" height="6" fill="#00fa00"/>
<rect x="43" y="266" width="2" height="6" fill="#00fa00"/>
<rect x="46" y="267" width="1" height="4" fill="#ff0000"/>
<rect x="45" y="267" width="2" height="3" fill="#ff0000"/>
<rect x="48" y="273" width="1" height="23" fill="#ff0000"/>
<rect x="47" y="276" width="2" height="18" fill="#ff0000"/>
<rect x="50" y="274" width="1" height="32" fill="#00fa00"/>
<rect x="49" y="277" width="2" height="26" fill="#00fa00"/>
<rect x="53" y="272" width="1" height="11" fill="#ff0000"/>
<rect x="52" y="274" width="2" height="8" fill="#ff0000"/>
<rect x="55" y="278" width="1" height="13" fill="#ff0000"/>
<rect x="54" y="279" width="2" height="11" fill="#ff0000"/>
<rect x="57" y="278" width="1" height="10" fill="#00fa00"/>
<rect x="56" y="279" width="2" height="8" fill="#00fa00"/>
<rect x="59" y="278" width="1" height="8" fill="#ff0000"/>
<rect x="58" y="278" width="2" height="7" fill="#ff0000"/>
<rect x="61" y="283" width="1" height="6" fill="#00fa00"/>
<rect x="60" y="283" width="2" height="6" fill="#00fa00"/>
<rect x="63" y="278" width="1" height="11" fill="#00fa00"/>
<rect x="62" y="279" width="2" height="9" fill="#00fa00"/>
<rect x="66" y="278" width="1" height="11" fill="#ff0000"/>
<rect x="65" y="279" width="2" height="9" fill="#ff0000"/>
<rect x="68" y="290" width="1" height="7" fill="#ff0000"/>
<rect x="67" y="291" width="2" height="5" fill="#ff0000"/>
<rect x="72" y="298" width="1" height="17" fill="#ff0000"/>
<rect x="71" y="300" width="2" height="13" fill="#ff0000"/>
<rect x="74" y="298" width="1" height="18" fill="#00fa00"/>
<rect x="73" y="300" width="2" height="14" fill="#00fa00"/>
<rect x="76" y="297" width="1" height="16" fill="#ff0000"/>
<rect x="75" y="298" width="2" height="14" fill="#ff0000"/>
<rect x="81" y="300" width="1" height="7" fill="#00fa00"/>
<rect x="80" y="301" width="2" height="5" fill="#00fa00"/>
<rect x="83" y="306" width="1" height="6" fill="#ff0000"/>
<rect x="82" y="307" width="2" height="4" fill="#ff0000"/>
<rect x="85" y="305" width="1" height="9" fill="#ff0000"/>
<rect x="84" y="306" width="2" height="7" fill="#ff0000"/>
<rect x="87" y="286" width="1" height="27" fill="#00fa00"/>
<rect x="86" y="288" width="2" height="22" fill="#00fa00"/>
<rect x="89" y="293" width="1" height="10" fill="#ff0000"/>
<rect x="88" y="294" width="2" height="8" fill="#ff0000"/>
<rect x="91" y="298" width="1" height="15" fill="#ff0000"/>
<rect x="90" y="299" width="2" height="13" fill="#ff0000"/>
<rect x="94" y="319" width="1" height="7" fill="#ff0000"/>
<rect x="93" y="319" width="2" height="6" fill="#ff0000"/>
<rect x="96" y="317" width="1" height="17" fill="#ff0000"/>
<rect x="95" y="319" width="2" height="14" fill="#ff0000"/>
<rect x="98" y="322" width="1" height="12" fill="#00fa00"/>
<rect x="97" y="323" width="2" height="10" fill="#00fa00"/>
<rect x="100" y="334" width="1" height="30" fill="#ff0000"/>
<rect x="99" y="337" width="2" height="24" fill="#ff0000"/>
<rect x="102" y="360" width="1" height="16" fill="#ff0000"/>
<rect x="101" y="361" width="2" height="13" fill="#ff0000"/>
<rect x="104" y="359" width="1" height="15" fill="#ff0000"/>
<rect x="103" y="360" width="2" height="12" fill="#ff0000"/>
<rect x="106" y="370" width="1" height="46" fill="#ff0000"/>
<rect x="105" y="375" width="2" height="36" fill="#ff0000"/>
<rect x="109" y="389" width="1" height="21" fill="#00fa00"/>
<rect x="108" y="391" width="2" height="17" fill="#00fa00"/>
<rect x="111" y="381" width="1" height="25" fill="#00fa00"/>
<rect x="110" y="383" width="2" height="20" fill="#00fa00"/>
<rect x="113" y="377" width="1" height="20" fill="#00fa00"/>
<rect x="112" y="379" width="2" height="16" fill="#00fa00"/>
<rect x="115" y="374" width="1" height="22" fill="#ff0000"/>
<rect x="114" y="376" width="2" height="18" fill="#ff0000"/>
<rect x="117" y="395" width="1" height="26" fill="#ff0000"/>
<rect x="116" y="398" width="2" height="20" fill="#ff0000"/>
<rect x="119" y="397" width="1" height="34" fill="#00fa00"/>
<rect x="118" y="400" width="2" height="28" fill="#00fa00"/>
<rect x="122" y="397" width="1" height="15" fill="#ff0000"/>
<rect x="121" y="398" width="2" height="12" fill="#ff0000"/>
<rect x="124" y="416" width="1" height="16" fill="#ff0000"/>
<rect x="123" y="418" width="2" height="12" fill="#ff0000"/>
<rect x="126" y="424" width="1" height="22" fill="#ff0000"/>
<rect x="125" y="427" width="2" height="17" fill="#ff0000"/>
<rect x="128" y="423" width="1" height="10" fill="#00fa00"/>
<rect x="127" y="424" width="2" height="8" fill="#00fa00"/>
<rect x="130" y="454" width="1" height="26" fill="#ff0000"/>
<rect x="129" y="456" width="2" height="21" fill="#ff0000"/>
<rect x="132" y="479" width="1" height="52" fill="#ff0000"/>
<rect x="131" y="484" width="2" height="42" fill="#ff0000"/>
<rect x="135" y="485" width="1" height="50" fill="#ff0000"/>
<rect x="134" y="490" width="2" height="40" fill="#ff0000"/>
<rect x="137" y="516" width="1" height="67" fill="#00fa00"/>
<rect x="136" y="516" width="2" height="65" fill="#00fa00"/>
<rect x="139" y="485" width="1" height="1" fill="#00fa00"/>
<rect x="138" y="485" width="2" height="1" fill="#00fa00"/>
<rect x="141" y="448" width="1" height="26" fill="#00fa00"/>
<rect x="140" y="450" width="2" height="21" fill="#00fa00"/>
<rect x="143" y="438" width="1" height="39" fill="#00fa00"/>
<rect x="142" y="442" width="2" height="31" fill="#00fa00"/>
<rect x="145" y="458" width="1" height="20" fill="#ff0000"/>
<rect x="144" y="460" width="2" height="16" fill="#ff0000"/>
<rect x="147" y="465" width="1" height="52" fill="#ff0000"/>
<rect x="146" y="470" width="2" height="42" fill="#ff0000"/>
<rect x="150" y="492" width="1" height="44" fill="#00fa00"/>
<rect x="149" y="497" width="2" height="34" fill="#00fa00"/>
<rect x="152" y="471" width="1" height="31" fill="#00fa00"/>
<rect x="151" y="474" width="2" height="25" fill="#00fa00"/>
<rect x="156" y="492" width="1" height="50" fill="#ff0000"/>
<rect x="155" y="492" width="2" height="9" fill="#ff0000"/>
<rect x="158" y="492" width="1" height="26" fill="#ff0000"/>
<rect x="157" y="495" width="2" height="20" fill="#ff0000"/>
<rect x="160" y="479" width="1" height="18" fill="#00fa00"/>
<rect x="159" y="481" width="2" height="14" fill="#00fa00"/>
<rect x="163" y="488" width="1" height="16" fill="#00fa00"/>
<rect x="162" y="490" width="2" height="12" fill="#00fa00"/>
<rect x="165" y="488" width="1" height="20" fill="#ff0000"/>
<rect x="164" y="490" width="2" height="16" fill="#ff0000"/>
<rect x="167" y="499" width="1" height="10" fill="#ff0000"/>
<rect x="166" y="500" width="2" height="8" fill="#ff0000"/>
<rect x="169" y="505" width="1" height="18" fill="#ff0000"/>
<rect x="168" y="507" width="2" height="14" fill="#ff0000"/>
<rect x="171" y="497" width="1" height="16" fill="#00fa00"/>
<rect x="170" y="499" width="2" height="12" fill="#00fa00"/>
<rect x="173" y="497" width="1" height="10" fill="#00fa00"/>
<rect x="172" y="498" width="2" height="8" fill="#00fa00"/>
<rect x="176" y="475" width="1" height="35" fill="#00fa00"/>
<rect x="175" y="478" width="2" height="28" fill="#00fa00"/>
<rect x="178" y="462" width="1" height="19" fill="#00fa00"/>
<rect x="177" y="464" width="2" height="15" fill="#00fa00"/>
<rect x="180" y="447" width="1" height="13" fill="#00fa00"/>
<rect x="179" y="448" width="2" height="11" fill="#00fa00"/>
<rect x="182" y="438" width="1" height="11" fill="#00fa00"/>
<rect x="181" y="439" width="2" height="9" fill="#00fa00"/>
<rect x="184" y="398" width="1" height="41" fill="#00fa00"/>
<rect x="183" y="402" width="2" height="33" fill="#00fa00"/>
<rect x="186" y="394" width="1" height="13" fill="#ff0000"/>
<rect x="185" y="395" width="2" height="11" fill="#ff0000"/>
<rect x="188" y="406" width="1" height="34" fill="#ff0000"/>
<rect x="187" y="409" width="2" height="28" fill="#ff0000"/>
<rect x="191" y="437" width="1" height="23" fill="#ff0000"/>
<rect x="190" y="439" width="2" height="19" fill="#ff0000"/>
<rect x="193" y="443" width="1" height="17" fill="#00fa00"/>
<rect x="192" y="445" width="2" height="14" fill="#00fa00"/>
<rect x="195" y="438" width="1" height="19" fill="#ff0000"/>
<rect x="194" y="440" width="2" height="15" fill="#ff0000"/>
<rect x="197" y="454" width="1" height="11" fill="#ff0000"/>
<rect x="196" y="455" width="2" height="9" fill="#ff0000"/>
<rect x="199" y="453" width="1" height="11" fill="#00fa00"/>
<rect x="198" y="454" width="2" height="9" fill="#00fa00"/>
<rect x="201" y="456" width="1" height="14" fill="#00fa00"/>
<rect x="200" y="458" width="2" height="11" fill="#00fa00"/>
<rect x="204" y="444" width="1" height="13" fill="#00fa00"/>
<rect x="203" y="445" width="2" height="11" fill="#00fa00"/>
<rect x="206" y="442" width="1" height="10" fill="#ff0000"/>
<rect x="205" y="443" width="2" height="8" fill="#ff0000"/>
<rect x="208" y="445" width="1" height="12" fill="#ff0000"/>
<rect x="207" y="447" width="2" height="9" fill="#ff0000"/>
<rect x="210" y="451" width="1" height="8" fill="#ff0000"/>
<rect x="209" y="452" width="2" height="6" fill="#ff0000"/>
<rect x="212" y="460" width="1" height="6" fill="#ff0000"/>
<rect x="211" y="460" width="2" height="6" fill="#ff0000"/>
<rect x="214" y="452" width="1" height="8" fill="#00fa00"/>
<rect x="213" y="453" width="2" height="7" fill="#00fa00"/>
<rect x="217" y="450" width="1" height="7" fill="#ff0000"/>
<rect x="216" y="450" width="2" height="6" fill="#ff0000"/>
<rect x="219" y="455" width="1" height="7" fill="#ff0000"/>
<rect x="218" y="455" width="2" height="6" fill="#ff0000"/>
<rect x="221" y="457" width="1" height="13" fill="#ff0000"/>
<rect x="220" y="458" width="2" height="11" fill="#ff0000"/>
<rect x="223" y="462" width="1" height="7" fill="#00fa00"/>
<rect x="222" y="463" width="2" height="5" fill="#00fa00"/>
<rect x="225" y="455" width="1" height="10" fill="#ff0000"/>
<rect x="224" y="456" width="2" height="8" fill="#ff0000"/>
<rect x="227" y="450" width="1" height="14" fill="#00fa00"/>
<rect x="226" y="451" width="2" height="11" fill="#00fa00"/>
<rect x="229" y="447" width="1" height="10" fill="#00fa00"/>
<rect x="228" y="448" width="2" height="8" fill="#00fa00"/>
<rect x="232" y="457" width="1" height="7" fill="#ff0000"/>
<rect x="231" y="458" width="2" height="5" fill="#ff0000"/>
<rect x="234" y="434" width="1" height="30" fill="#00fa00"/>
<rect x="233" y="437" width="2" height="24" fill="#00fa00"/>
<rect x="236" y="435" width="1" height="5" fill="#ff0000"/>
<rect x="235" y="436" width="2" height="4" fill="#ff0000"/>
<rect x="238" y="435" width="1" height="20" fill="#ff0000"/>
<rect x="237" y="437" width="2" height="16" fill="#ff0000"/>
<rect x="240" y="451" width="1" height="8" fill="#ff0000"/>
<rect x="239" y="452" width="2" height="6" fill="#ff0000"/>
<rect x="242" y="452" width="1" height="5" fill="#00fa00"/>
<rect x="241" y="453" width="2" height="4" fill="#00fa00"/>
<rect x="245" y="457" width="1" height="7" fill="#ff0000"/>
<rect x="244" y="458" width="2" height="5" fill="#ff0000"/>
<rect x="247" y="450" width="1" height="5" fill="#00fa00"/>
<rect x="246" y="450" width="2" height="5" fill="#00fa00"/>
<rect x="249" y="436" width="1" height="15" fill="#00fa00"/>
<rect x="248" y="438" width="2" height="12" fill="#00fa00"/>
<rect x="251" y="444" width="1" height="9" fill="#ff0000"/>
<rect x="250" y="445" width="2" height="7" fill="#ff0000"/>
<rect x="253" y="444" width="1" height="7" fill="#00fa00"/>
<rect x="252" y="444" width="2" height="6" fill="#00fa00"/>
<rect x="255" y="436" width="1" height="10" fill="#00fa00"/>
<rect x="254" y="437" width="2" height="8" fill="#00fa00"/>
<rect x="257" y="435" width="1" height="7" fill="#00fa00"/>
<rect x="256" y="435" width="2" height="7" fill="#00fa00"/>
<rect x="260" y="440" width="1" height="6" fill="#ff0000"/>
<rect x="259" y="440" width="2" height="5" fill="#ff0000"/>
<rect x="262" y="434" width="1" height="12" fill="#ff0000"/>
<rect x="261" y="435" width="2" height="9" fill="#ff0000"/>
<rect x="264" y="410" width="1" height="32" fill="#00fa00"/>
<rect x="263" y="414" width="2" height="25" fill="#00fa00"/>
<rect x="266" y="415" width="1" height="27" fill="#00fa00"/>
<rect x="265" y="418" width="2" height="22" fill="#00fa00"/>
<rect x="268" y="395" width="1" height="14" fill="#00fa00"/>
<rect x="267" y="397" width="2" height="10" fill="#00fa00"/>
<rect x="270" y="400" width="1" height="16" fill="#ff0000"/>
<rect x="269" y="402" width="2" height="13" fill="#ff0000"/>
<rect x="273" y="394" width="1" height="15" fill="#00fa00"/>
<rect x="272" y="395" width="2" height="12" fill="#00fa00"/>
<rect x="275" y="379" width="1" height="20" fill="#00fa00"/>
<rect x="274" y="381" width="2" height="16" fill="#00fa00"/>
<rect x="277" y="379" width="1" height="10" fill="#00fa00"/>
<rect x="276" y="380" width="2" height="8" fill="#00fa00"/>
<rect x="279" y="382" width="1" height="11" fill="#ff0000"/>
<rect x="278" y="383" width="2" height="9" fill="#ff0000"/>
<rect x="281" y="384" width="1" height="14" fill="#00fa00"/>
<rect x="280" y="386" width="2" height="10" fill="#00fa00"/>
<rect x="283" y="373" width="1" height="16" fill="#00fa00"/>
<rect x="282" y="374" width="2" height="13" fill="#00fa00"/>
<rect x="286" y="379" width="1" height="14" fill="#ff0000"/>
<rect x="285" y="381" width="2" height="10" fill="#ff0000"/>
<rect x="288" y="372" width="1" height="15" fill="#00fa00"/>
<rect x="287" y="373" width="2" height="12" fill="#00fa00"/>
<rect x="290" y="372" width="1" height="27" fill="#00fa00"/>
<rect x="289" y="375" width="2" height="21" fill="#00fa00"/>
<rect x="292" y="368" width="1" height="9" fill="#ff0000"/>
<rect x="291" y="369" width="2" height="7" fill="#ff0000"/>
<rect x="294" y="374" width="1" height="7" fill="#ff0000"/>
<rect x="293" y="375" width="2" height="5" fill="#ff0000"/>
<rect x="296" y="378" width="1" height="7" fill="#ff0000"/>
<rect x="295" y="378" width="2" height="6" fill="#ff0000"/>
<rect x="298" y="378" width="1" height="8" fill="#00fa00"/>
<rect x="297" y="379" width="2" height="6" fill="#00fa00"/>
<rect x="301" y="379" width="1" height="41" fill="#ff0000"/>
<rect x="300" y="383" width="2" height="33" fill="#ff0000"/>
<rect x="303" y="405" width="1" height="14" fill="#00fa00"/>
<rect x="302" y="407" width="2" height="10" fill="#00fa00"/>
<rect x="305" y="413" width="1" height="23" fill="#ff0000"/>
<rect x="304" y="415" width="2" height="18" fill="#ff0000"/>
<rect x="307" y="419" width="1" height="12" fill="#ff0000"/>
<rect x="306" y="420" width="2" height="9" fill="#ff0000"/>
<rect x="309" y="410" width="1" height="42" fill="#00fa00"/>
<rect x="308" y="414" width="2" height="34" fill="#00fa00"/>
<rect x="311" y="412" width="1" height="12" fill="#ff0000"/>
<rect x="310" y="413" width="2" height="10" fill="#ff0000"/>
<rect x="314" y="400" width="1" height="29" fill="#ff0000"/>
<rect x="313" y="402" width="2" height="24" fill="#ff0000"/>
<rect x="316" y="409" width="1" height="15" fill="#ff0000"/>
<rect x="315" y="410" width="2" height="12" fill="#ff0000"/>
<rect x="318" y="410" width="1" height="14" fill="#ff0000"/>
<rect x="317" y="411" width="2" height="11" fill="#ff0000"/>
<rect x="322" y="394" width="1" height="25" fill="#00fa00"/>
<rect x="321" y="396" width="2" height="20" fill="#00fa00"/>
<rect x="324" y="407" width="1" height="8" fill="#00fa00"/>
<rect x="323" y="408" width="2" height="7" fill="#00fa00"/>
<rect x="327" y="408" width="1" height="23" fill="#ff0000"/>
<rect x="326" y="410" width="2" height="18" fill="#ff0000"/>
<rect x="329" y="431" width="1" height="21" fill="#ff0000"/>
<rect x="328" y="433" width="2" height="17" fill="#ff0000"/>
<rect x="331" y="442" width="1" height="30" fill="#ff0000"/>
<rect x="330" y="445" width="2" height="24" fill="#ff0000"/>
<rect x="333" y="452" width="1" height="24" fill="#ff0000"/>
<rect x="332" y="455" width="2" height="18" fill="#ff0000"/>
<rect x="335" y="462" width="1" height="20" fill="#ff0000"/>
<rect x="334" y="464" width="2" height="16" fill="#ff0000"/>
<rect x="337" y="452" width="1" height="30" fill="#00fa00"/>
<rect x="336" y="455" width="2" height="24" fill="#00fa00"/>
<rect x="339" y="452" width="1" height="21" fill="#ff0000"/>
<rect x="338" y="454" width="2" height="17" fill="#ff0000"/>
<rect x="342" y="450" width="1" height="24" fill="#ff0000"/>
<rect x="341" y="453" width="2" height="18" fill="#ff0000"/>
<rect x="344" y="465" width="1" height="15" fill="#00fa00"/>
<rect x="343" y="467" width="2" height="11" fill="#00fa00"/>
<rect x="346" y="426" width="1" height="29" fill="#00fa00"/>
<rect x="345" y="429" width="2" height="23" fill="#00fa00"/>
<rect x="348" y="427" width="1" height="15" fill="#ff0000"/>
<rect x="347" y="428" width="2" height="12" fill="#ff0000"/>
<rect x="350" y="427" width="1" height="26" fill="#ff0000"/>
<rect x="349" y="429" width="2" height="21" fill="#ff0000"/>
<rect x="352" y="444" width="1" height="21" fill="#00fa00"/>
<rect x="351" y="446" width="2" height="16" fill="#00fa00"/>
<rect x="355" y="424" width="1" height="17" fill="#00fa00"/>
<rect x="354" y="426" width="2" height="13" fill="#00fa00"/>
<rect x="357" y="424" width="1" height="15" fill="#ff0000"/>
<rect x="356" y="426" width="2" height="11" fill="#ff0000"/>
<rect x="359" y="435" width="1" height="15" fill="#ff0000"/>
<rect x="358" y="437" width="2" height="11" fill="#ff0000"/>
<rect x="361" y="443" width="1" height="14" fill="#00fa00"/>
<rect x="360" y="444" width="2" height="12" fill="#00fa00"/>
<rect x="363" y="445" width="1" height="11" fill="#ff0000"/>
<rect x="362" y="446" width="2" height="9" fill="#ff0000"/>
<rect x="365" y="444" width="1" height="16" fill="#00fa00"/>
<rect x="364" y="445" width="2" height="14" fill="#00fa00"/>
<rect x="367" y="443" width="1" height="8" fill="#ff0000"/>
<rect x="366" y="444" width="2" height="6" fill="#ff0000"/>
<rect x="370" y="439" width="1" height="11" fill="#00fa00"/>
<rect x="369" y="440" width="2" height="9" fill="#00fa00"/>
<rect x="372" y="438" width="1" height="12" fill="#00fa00"/>
<rect x="371" y="439" width="2" height="10" fill="#00fa00"/>
<rect x="374" y="424" width="1" height="15" fill="#00fa00"/>
<rect x="373" y="426" width="2" height="11" fill="#00fa00"/>
<rect x="376" y="406" width="1" height="31" fill="#00fa00"/>
<rect x="375" y="409" width="2" height="25" fill="#00fa00"/>
<rect x="378" y="418" width="1" height="23" fill="#ff0000"/>
<rect x="377" y="420" width="2" height="19" fill="#ff0000"/>
<rect x="380" y="437" width="1" height="23" fill="#ff0000"/>
<rect x="379" y="439" width="2" height="19" fill="#ff0000"/>
<rect x="383" y="444" width="1" height="23" fill="#ff0000"/>
<rect x="382" y="447" width="2" height="18" fill="#ff0000"/>
<rect x="385" y="465" width="1" height="17" fill="#ff0000"/>
<rect x="384" y="467" width="2" height="14" fill="#ff0000"/>
<rect x="387" y="468" width="1" height="15" fill="#00fa00"/>
<rect x="386" y="469" width="2" height="13" fill="#00fa00"/>
<rect x="389" y="468" width="1" height="11" fill="#ff0000"/>
<rect x="388" y="469" width="2" height="9" fill="#ff0000"/>
<rect x="391" y="470" width="1" height="18" fill="#ff0000"/>
<rect x="390" y="472" width="2" height="14" fill="#ff0000"/>
<rect x="393" y="480" width="1" height="37" fill="#ff0000"/>
<rect x="392" y="484" width="2" height="30" fill="#ff0000"/>
<rect x="396" y="496" width="1" height="23" fill="#ff0000"/>
<rect x="395" y="498" width="2" height="19" fill="#ff0000"/>
<rect x="398" y="513" width="1" height="16" fill="#00fa00"/>
<rect x="397" y="515" width="2" height="12" fill="#00fa00"/>
<rect x="400" y="510" width="1" height="13" fill="#00fa00"/>
<rect x="399" y="512" width="2" height="10" fill="#00fa00"/>
<rect x="402" y="496" width="1" height="13" fill="#00fa00"/>
<rect x="401" y="497" width="2" height="10" fill="#00fa00"/>
<rect x="404" y="494" width="1" height="10" fill="#00fa00"/>
<rect x="403" y="495" width="2" height="8" fill="#00fa00"/>
<rect x="406" y="488" width="1" height="17" fill="#ff0000"/>
<rect x="405" y="490" width="2" height="14" fill="#ff0000"/>
<rect x="408" y="499" width="1" height="13" fill="#ff0000"/>
<rect x="407" y="500" width="2" height="11" fill="#ff0000"/>
<rect x="411" y="491" width="1" height="19" fill="#00fa00"/>
<rect x="410" y="493" width="2" height="16" fill="#00fa00"/>
<rect x="413" y="502" width="1" height="7" fill="#ff0000"/>
<rect x="412" y="503" width="2" height="5" fill="#ff0000"/>
<rect x="415" y="505" width="1" height="16" fill="#ff0000"/>
<rect x="414" y="507" width="2" height="13" fill="#ff0000"/>
<rect x="417" y="516" width="1" height="26" fill="#ff0000"/>
<rect x="416" y="519" width="2" height="21" fill="#ff0000"/>
<rect x="419" y="527" width="1" height="15" fill="#00fa00"/>
<rect x="418" y="529" width="2" height="12" fill="#00fa00"/>
<rect x="421" y="527" width="1" height="27" fill="#ff0000"/>
<rect x="420" y="530" width="2" height="21" fill="#ff0000"/>
<rect x="424" y="526" width="1" height="36" fill="#ff0000"/>
<rect x="423" y="530" width="2" height="28" fill="#ff0000"/>
<rect x="426" y="517" width="1" height="34" fill="#00fa00"/>
<rect x="425" y="521" width="2" height="26" fill="#00fa00"/>
<rect x="428" y="486" width="1" height="15" fill="#00fa00"/>
<rect x="427" y="488" width="2" height="12" fill="#00fa00"/>
<rect x="430" y="486" width="1" height="24" fill="#ff0000"/>
<rect x="429" y="488" width="2" height="19" fill="#ff0000"/>
<rect x="432" y="472" width="1" height="31" fill="#00fa00"/>
<rect x="431" y="475" width="2" height="25" fill="#00fa00"/>
<rect x="437" y="467" width="1" height="25" fill="#00fa00"/>
<rect x="436" y="470" width="2" height="20" fill="#00fa00"/>
<rect x="439" y="450" width="1" height="25" fill="#00fa00"/>
<rect x="438" y="453" width="2" height="20" fill="#00fa00"/>
<rect x="441" y="441" width="1" height="14" fill="#ff0000"/>
<rect x="440" y="443" width="2" height="11" fill="#ff0000"/>
<rect x="443" y="435" width="1" height="17" fill="#00fa00"/>
<rect x="442" y="437" width="2" height="13" fill="#00fa00"/>
<rect x="445" y="429" width="1" height="27" fill="#00fa00"/>
<rect x="444" y="431" width="2" height="22" fill="#00fa00"/>
<rect x="447" y="417" width="1" height="23" fill="#00fa00"/>
<rect x="446" y="419" width="2" height="19" fill="#00fa00"/>
<rect x="449" y="429" width="1" height="18" fill="#ff0000"/>
<rect x="448" y="431" width="2" height="14" fill="#ff0000"/>
<rect x="452" y="451" width="1" height="18" fill="#ff0000"/>
<rect x="451" y="453" width="2" height="14" fill="#ff0000"/>
<rect x="454" y="452" width="1" height="17" fill="#00fa00"/>
<rect x="453" y="454" width="2" height="13" fill="#00fa00"/>
<rect x="456" y="456" width="1" height="37" fill="#ff0000"/>
<rect x="455" y="460" width="2" height="29" fill="#ff0000"/>
<rect x="458" y="480" width="1" height="14" fill="#ff0000"/>
<rect x="457" y="481" width="2" height="12" fill="#ff0000"/>
<rect x="460" y="460" width="1" height="26" fill="#00fa00"/>
<rect x="459" y="462" width="2" height="22" fill="#00fa00"/>
<rect x="462" y="460" width="1" height="14" fill="#ff0000"/>
<rect x="461" y="461" width="2" height="11" fill="#ff0000"/>
<rect x="465" y="459" width="1" height="15" fill="#00fa00"/>
<rect x="464" y="460" width="2" height="12" fill="#00fa00"/>
<rect x="467" y="450" width="1" height="14" fill="#ff0000"/>
<rect x="466" y="452" width="2" height="10" fill="#ff0000"/>
<rect x="469" y="458" width="1" height="17" fill="#ff0000"/>
<rect x="468" y="460" width="2" height="14" fill="#ff0000"/>
<rect x="471" y="465" width="1" height="16" fill="#00fa00"/>
<rect x="470" y="467" width="2" height="12" fill="#00fa00"/>
<rect x="473" y="462" width="1" height="13" fill="#ff0000"/>
<rect x="472" y="463" width="2" height="10" fill="#ff0000"/>
<rect x="475" y="459" width="1" height="20" fill="#00fa00"/>
<rect x="474" y="461" width="2" height="16" fill="#00fa00"/>
<rect x="477" y="461" width="1" height="6" fill="#00fa00"/>
<rect x="476" y="462" width="2" height="5" fill="#00fa00"/>
<rect x="480" y="462" width="1" height="7" fill="#ff0000"/>
<rect x="479" y="463" width="2" height="5" fill="#ff0000"/>
<rect x="482" y="465" width="1" height="5" fill="#ff0000"/>
<rect x="481" y="465" width="2" height="5" fill="#ff0000"/>
<rect x="484" y="465" width="1" height="9" fill="#00fa00"/>
<rect x="483" y="466" width="2" height="7" fill="#00fa00"/>
<rect x="486" y="467" width="1" height="17" fill="#ff0000"/>
<rect x="485" y="469" width="2" height="13" fill="#ff0000"/>
<rect x="488" y="470" width="1" height="11" fill="#00fa00"/>
<rect x="487" y="471" width="2" height="8" fill="#00fa00"/>
<rect x="490" y="479" width="1" height="7" fill="#00fa00"/>
<rect x="489" y="480" width="2" height="5" fill="#00fa00"/>
<rect x="493" y="478" width="1" height="7" fill="#00fa00"/>
<rect x="492" y="478" width="2" height="7" fill="#00fa00"/>
<rect x="495" y="476" width="1" height="8" fill="#00fa00"/>
<rect x="494" y="477" width="2" height="7" fill="#00fa00"/>
<rect x="497" y="476" width="1" height="9" fill="#ff0000"/>
<rect x="496" y="477" width="2" height="7" fill="#ff0000"/>
<rect x="499" y="478" width="1" height="12" fill="#ff0000"/>
<rect x="498" y="479" width="2" height="10" fill="#ff0000"/>
<rect x="501" y="479" width="1" height="20" fill="#00fa00"/>
<rect x="500" y="481" width="2" height="16" fill="#00fa00"/>
<rect x="503" y="479" width="1" height="10" fill="#ff0000"/>
<rect x="502" y="480" width="2" height="8" fill="#ff0000"/>
<rect x="506" y="484" width="1" height="6" fill="#00fa00"/>
<rect x="505" y="484" width="2" height="6" fill="#00fa00"/>
<rect x="508" y="487" width="1" height="18" fill="#ff0000"/>
<rect x="507" y="489" width="2" height="15" fill="#ff0000"/>
<rect x="512" y="494" width="1" height="12" fill="#00fa00"/>
<rect x="511" y="495" width="2" height="10" fill="#00fa00"/>
<rect x="514" y="492" width="1" height="24" fill="#00fa00"/>
<rect x="513" y="494" width="2" height="20" fill="#00fa00"/>
<rect x="516" y="486" width="1" height="14" fill="#00fa00"/>
<rect x="515" y="487" width="2" height="11" fill="#00fa00"/>
<rect x="518" y="490" width="1" height="9" fill="#ff0000"/>
<rect x="517" y="491" width="2" height="7" fill="#ff0000"/>
<rect x="521" y="495" width="1" height="9" fill="#ff0000"/>
<rect x="520" y="496" width="2" height="7" fill="#ff0000"/>
<rect x="523" y="492" width="1" height="10" fill="#00fa00"/>
<rect x="522" y="493" width="2" height="8" fill="#00fa00"/>
<rect x="525" y="501" width="1" height="6" fill="#ff0000"/>
<rect x="524" y="502" width="2" height="4" fill="#ff0000"/>
<rect x="527" y="496" width="1" height="14" fill="#ff0000"/>
<rect x="526" y="498" width="2" height="10" fill="#ff0000"/>
<rect x="529" y="510" width="1" height="14" fill="#ff0000"/>
<rect x="528" y="512" width="2" height="11" fill="#ff0000"/>
<rect x="534" y="497" width="1" height="18" fill="#00fa00"/>
<rect x="533" y="499" width="2" height="14" fill="#00fa00"/>
<rect x="536" y="483" width="1" height="16" fill="#00fa00"/>
<rect x="535" y="484" width="2" height="13" fill="#00fa00"/>
<rect x="538" y="489" width="1" height="19" fill="#ff0000"/>
<rect x="537" y="491" width="2" height="15" fill="#ff0000"/>
<rect x="540" y="497" width="1" height="8" fill="#ff0000"/>
<rect x="539" y="498" width="2" height="6" fill="#ff0000"/>
<rect x="542" y="476" width="1" height="26" fill="#00fa00"/>
<rect x="541" y="479" width="2" height="20" fill="#00fa00"/>
<rect x="544" y="470" width="1" height="13" fill="#ff0000"/>
<rect x="543" y="471" width="2" height="11" fill="#ff0000"/>
<rect x="549" y="458" width="1" height="28" fill="#00fa00"/>
<rect x="548" y="461" width="2" height="22" fill="#00fa00"/>
<rect x="551" y="460" width="1" height="13" fill="#00fa00"/>
<rect x="550" y="461" width="2" height="10" fill="#00fa00"/>
<rect x="553" y="444" width="1" height="29" fill="#ff0000"/>
<rect x="552" y="447" width="2" height="23" fill="#ff0000"/>
<rect x="555" y="458" width="1" height="14" fill="#ff0000"/>
<rect x="554" y="460" width="2" height="11" fill="#ff0000"/>
<rect x="557" y="444" width="1" height="24" fill="#ff0000"/>
<rect x="556" y="447" width="2" height="18" fill="#ff0000"/>
<rect x="559" y="417" width="1" height="44" fill="#00fa00"/>
<rect x="558" y="421" width="2" height="35" fill="#00fa00"/>
<rect x="562" y="391" width="1" height="23" fill="#00fa00"/>
<rect x="561" y="393" width="2" height="19" fill="#00fa00"/>
<rect x="564" y="404" width="1" height="21" fill="#ff0000"/>
<rect x="563" y="406" width="2" height="17" fill="#ff0000"/>
<rect x="566" y="407" width="1" height="41" fill="#00fa00"/>
<rect x="565" y="411" width="2" height="33" fill="#00fa00"/>
<rect x="568" y="413" width="1" height="34" fill="#ff0000"/>
<rect x="567" y="416" width="2" height="28" fill="#ff0000"/>
<rect x="570" y="422" width="1" height="27" fill="#ff0000"/>
<rect x="569" y="425" width="2" height="21" fill="#ff0000"/>
<rect x="572" y="445" width="1" height="26" fill="#ff0000"/>
<rect x="571" y="447" width="2" height="22" fill="#ff0000"/>
<rect x="575" y="440" width="1" height="24" fill="#00fa00"/>
<rect x="574" y="442" width="2" height="20" fill="#00fa00"/>
<rect x="577" y="412" width="1" height="28" fill="#00fa00"/>
<rect x="576" y="415" width="2" height="22" fill="#00fa00"/>
<rect x="579" y="402" width="1" height="26" fill="#00fa00"/>
<rect x="578" y="405" width="2" height="21" fill="#00fa00"/>
<path d="M0.0,230.6 L10.1,231.4 L15.1,230.9 L20.1,226.4 L31.0,226.4 L33.5,220.5 L36.1,217.2 L39.4,217.5 L44.4,223.0 L48.6,221.9 L50.3,223.0 L57.0,223.9 L67.1,223.5 L72.9,228.1 L75.5,235.6 L78.0,254.0 L80.5,259.1 L85.5,263.3 L88.0,267.5 L91.4,269.5 L97.3,273.8 L101.5,267.5 L105.7,261.6 L108.0,259.9 L112.5,260.0 L122.5,272.5 L128.8,290.0 L131.3,301.7 L136.4,304.3 L138.9,313.5 L141.4,328.6 L144.8,343.7 L148.9,352.9 L152.3,357.1 L154.8,367.1 L158.0,388.9 L162.1,401.7 L165.4,420.2 L168.8,437.0 L171.3,447.0 L174.7,451.2 L178.9,447.9 L182.2,440.3 L184.7,423.5 L187.2,411.8 L191.4,405.9 L196.5,400.9 L203.0,400.4 L206.7,397.0 L210.1,400.1 L216.8,411.0 L220.2,413.5 L225.2,413.5 L228.5,426.1 L231.1,439.5 L233.6,441.1 L236.1,439.5 L245.3,439.5 L252.9,440.3 L257.9,437.0 L262.1,433.6 L263.8,420.2 L265.4,411.8 L270.5,398.4 L274.7,390.0 L276.8,388.6 L283.5,373.5 L288.5,363.4 L292.7,358.1 L296.9,357.1 L300.3,358.4 L303.6,362.6 L307.0,364.8 L312.9,362.3 L318.7,363.1 L323.8,364.8 L328.8,367.6 L332.1,366.5 L337.2,372.7 L340.5,385.2 L343.9,392.8 L348.9,393.6 L353.9,399.5 L359.0,404.5 L363.0,408.7 L364.3,410.1 L366.9,418.5 L369.4,421.8 L372.7,422.7 L375.2,419.3 L380.3,418.5 L385.3,417.6 L390.3,417.6 L393.7,411.8 L397.0,409.3 L401.2,410.9 L405.4,415.1 L410.5,421.8 L415.5,429.4 L418.0,442.0 L420.5,455.4 L423.9,462.1 L427.2,466.3 L430.6,473.0 L433.9,471.3 L436.5,462.1 L438.1,448.7 L440.7,440.3 L443.0,436.9 L445.9,420.2 L449.3,410.1 L455.1,403.4 L461.8,403.4 L465.2,407.6 L467.7,416.8 L470.2,423.5 L474.4,426.0 L480.3,426.9 L485.3,431.1 L488.7,441.1 L493.7,448.7 L500.4,452.9 L505.4,455.4 L510.5,454.5 L517.2,457.0 L522.2,462.9 L527.2,469.6 L533.9,473.8 L539.0,475.5 L543.0,477.2 L543.7,476.9 L547.0,473.5 L550.4,466.8 L553.7,458.4 L557.1,448.4 L558.8,440.0 L559.5,434.9 L561.9,423.5 L564.3,410.6 L566.8,404.9 L570.0,404.1 L574.1,404.9 L576.5,400.8 L578.6,396.8" fill="none" stroke="#0000ff" stroke-width="1.05" stroke-linejoin="round" stroke-linecap="round" shape-rendering="crispEdges"/>
<path d="M0.0,264.1 L3.4,262.4 L7.5,259.6 L10.9,261.6 L15.9,265.8 L21.8,275.0 L31.9,275.9 L36.1,280.9 L39.1,283.7 L45.7,286.5 L48.5,292.1 L52.2,296.8 L53.6,301.0 L57.8,303.3 L60.0,305.2 L63.4,307.6 L68.4,315.2 L72.6,323.5 L75.2,323.5 L78.5,315.2 L85.2,320.2 L90.2,321.0 L94.4,326.1 L98.6,335.3 L100.3,350.4 L103.7,362.1 L106.2,377.2 L107.9,390.6 L109.5,403.0 L110.1,400.1 L114.3,415.2 L117.6,429.4 L121.8,439.5 L125.2,452.0 L128.5,462.1 L130.2,473.9 L132.7,487.3 L134.4,503.0 L135.2,503.8 L137.8,527.2 L140.3,528.9 L143.6,528.1 L146.1,530.6 L148.7,539.0 L151.2,547.4 L153.7,549.9 L159.6,550.7 L161.2,551.2 L163.8,546.5 L168.8,544.9 L172.1,540.7 L176.3,541.0 L178.9,534.8 L181.0,531.4 L183.0,535.6 L185.6,545.7 L188.6,549.9 L192.3,542.3 L197.3,536.5 L203.0,529.8 L211.8,503.0 L216.8,487.3 L220.2,482.2 L225.2,486.4 L228.5,475.5 L231.1,470.5 L235.2,472.2 L243.6,472.2 L253.7,471.3 L258.7,470.2 L262.1,470.5 L266.3,473.9 L272.1,476.4 L277.2,479.7 L280.5,481.9 L283.9,478.0 L288.9,465.5 L293.9,455.4 L298.1,443.7 L303.0,434.4 L303.6,432.2 L310.3,430.5 L315.4,437.2 L322.1,442.3 L327.1,449.0 L330.5,458.0 L335.0,472.1 L338.4,478.9 L343.4,484.7 L351.8,486.4 L360.2,484.7 L365.2,482.2 L371.9,481.4 L376.9,479.7 L379.4,474.7 L382.0,477.2 L385.3,478.0 L388.7,480.5 L391.2,487.2 L392.9,495.6 L394.5,508.0 L396.8,517.2 L400.2,526.4 L408.5,539.0 L415.2,544.0 L420.3,549.9 L423.6,555.8 L425.3,560.5 L429.5,557.4 L432.9,555.8 L435.4,558.3 L437.9,563.3 L442.1,567.5 L447.9,573.4 L453.8,570.0 L458.0,567.8 L460.5,561.6 L463.0,549.0 L465.6,535.6 L467.2,520.5 L468.9,507.1 L471.4,502.1 L475.6,496.2 L479.0,492.0 L485.3,493.6 L493.7,494.3 L502.1,495.6 L508.8,504.0 L511.8,504.6 L516.8,507.1 L523.5,510.4 L530.2,515.5 L533.6,516.3 L538.6,515.1 L543.7,518.0 L547.9,517.1 L551.2,521.3 L555.4,522.2 L557.9,527.2 L560.4,533.9 L563.8,537.3 L567.1,533.9 L569.7,528.9 L572.2,522.2 L574.7,515.5 L577.2,511.3" fill="none" stroke="#0000ff" stroke-width="1.05" stroke-linejoin="round" stroke-linecap="round" shape-rendering="crispEdges"/>
<path d="M0.0,329.4 L9.3,322.9 L18.6,318.2 L28.0,314.5 L37.3,308.9 L46.6,304.7 L55.3,301.3 L67.1,297.7 L78.8,294.6 L90.6,293.8 L100.6,294.3 L108.0,295.1 L117.1,298.0 L128.8,302.6 L137.2,307.6 L147.3,314.3 L158.0,321.0 L163.4,324.4 L170.1,332.8 L176.8,338.6 L183.5,344.5 L190.2,348.7 L197.0,356.2 L203.7,362.1 L210.4,369.7 L217.1,374.7 L223.8,383.1 L230.5,388.9 L237.2,394.0 L243.9,399.0 L247.3,403.0 L248.7,404.3 L257.0,411.8 L265.4,419.3 L273.8,424.4 L282.2,428.2 L290.6,431.1 L297.3,432.8 L303.0,433.9 L305.3,436.4 L312.0,440.6 L320.4,443.1 L328.8,444.8 L338.9,446.5 L347.2,447.0 L355.6,446.5 L363.0,446.5 L368.5,442.0 L376.9,439.9 L385.3,438.3 L392.0,438.3 L398.7,440.3 L407.1,442.8 L415.5,445.3 L423.9,448.7 L432.3,450.0 L439.0,450.3 L443.0,450.0 L451.8,449.5 L460.2,450.3 L468.5,451.7 L476.9,452.9 L485.3,454.5 L493.7,458.7 L502.1,462.9 L510.5,466.3 L518.9,470.5 L527.2,473.8 L535.6,476.3 L543.0,478.0 L543.7,477.7 L548.7,478.6 L557.1,479.4 L565.5,478.9 L572.2,478.6 L578.0,478.2" fill="none" stroke="#0000ff" stroke-width="2.4" stroke-linejoin="round" stroke-linecap="round" shape-rendering="crispEdges"/>
<path d="M0.0,246.5 L8.4,245.7 L13.4,247.3 L20.1,249.9 L30.2,249.9 L36.1,249.0 L41.9,253.2 L48.6,256.6 L55.3,262.4 L63.7,264.9 L70.4,272.5 L77.1,284.2 L83.9,290.9 L90.6,296.0 L98.9,304.0 L103.7,313.5 L108.7,326.1 L115.4,340.3 L122.1,355.4 L127.1,370.5 L131.3,385.6 L135.5,403.0 L138.6,418.5 L142.8,431.1 L148.7,443.7 L154.5,457.1 L158.7,468.8 L163.8,478.9 L168.8,490.6 L172.1,496.0 L176.3,496.0 L182.2,487.3 L188.9,479.7 L195.6,471.3 L203.0,465.5 L208.4,457.9 L215.1,450.4 L218.5,447.9 L221.8,447.9 L226.0,450.4 L230.2,455.4 L238.6,455.9 L245.3,455.9 L253.7,455.4 L261.2,452.9 L267.1,447.0 L273.8,440.3 L280.5,431.1 L285.6,421.9 L291.4,410.1 L297.3,402.6 L303.0,397.5 L308.7,397.0 L315.4,398.7 L322.1,402.9 L328.8,410.4 L333.8,418.8 L338.9,430.5 L343.9,438.9 L348.9,441.9 L355.6,443.9 L363.0,445.6 L363.5,448.7 L368.5,452.0 L373.6,451.2 L380.3,447.3 L387.0,447.8 L392.0,454.5 L397.0,463.8 L403.8,472.1 L410.5,480.5 L415.5,486.4 L418.9,495.6 L422.2,504.0 L424.7,508.0 L428.7,513.8 L433.7,514.7 L437.9,510.5 L442.1,502.9 L447.1,494.5 L452.1,488.7 L455.5,487.0 L458.5,483.9 L463.5,473.8 L468.5,465.4 L473.6,461.2 L478.6,460.4 L483.6,462.9 L488.7,467.1 L493.7,471.3 L500.4,473.8 L507.1,477.2 L513.8,483.0 L520.5,488.9 L525.6,493.1 L532.3,495.6 L539.0,496.5 L543.0,496.5 L543.7,497.0 L548.7,496.2 L553.7,492.0 L558.8,487.0 L562.1,480.2 L565.5,472.7 L569.7,466.8 L573.9,462.6 L576.4,457.6 L578.0,454.3 L578.6,453.6" fill="none" stroke="#0000ff" stroke-width="2.4" stroke-linejoin="round" stroke-linecap="round" shape-rendering="crispEdges"/>
<path d="M0.0,302.7 L8.4,294.3 L16.8,286.8 L26.8,279.2 L36.9,270.0 L45.3,262.4 L52.0,257.7 L57.9,256.2 L63.7,256.6 L70.4,259.1 L78.8,263.3 L87.2,268.3 L95.6,272.5 L100.6,277.5 L105.7,285.1 L108.0,288.4 L108.7,290.0 L117.1,300.1 L125.5,311.8 L132.2,325.2 L138.9,342.0 L145.6,355.4 L152.3,368.8 L158.0,383.9 L162.1,390.0 L167.1,400.1 L173.8,412.6 L182.2,425.2 L188.9,431.1 L193.9,438.6 L198.1,447.0 L203.0,450.4 L206.7,455.4 L213.4,460.4 L220.2,464.6 L225.2,467.1 L231.9,468.5 L240.3,468.5 L245.3,465.5 L253.7,463.8 L262.1,459.6 L270.5,452.9 L278.9,443.7 L285.6,438.6 L292.3,435.3 L299.0,432.8 L303.0,431.9 L305.3,431.4 L313.7,428.0 L322.1,425.5 L328.8,423.0 L335.5,423.0 L343.9,423.8 L352.3,423.3 L359.0,423.0 L363.0,423.0 L368.5,423.2 L375.2,424.3 L380.3,426.9 L387.0,431.9 L393.7,438.6 L400.4,447.0 L407.1,454.5 L412.1,458.7 L417.2,462.1 L422.2,468.8 L426.4,473.8 L431.4,477.2 L437.3,478.0 L443.0,477.5 L450.1,476.0 L455.1,476.3 L460.2,478.9 L468.5,480.5 L476.9,482.2 L485.3,483.9 L493.7,484.7 L502.1,483.9 L508.8,482.2 L515.5,482.2 L523.9,482.2 L530.6,479.7 L535.6,477.2 L543.0,478.0 L543.7,478.9 L550.4,480.2 L557.1,481.1 L562.1,479.4 L567.1,476.9 L572.2,475.6 L578.0,474.9" fill="none" stroke="#000" stroke-width="2.4" stroke-linejoin="round" stroke-linecap="round" shape-rendering="crispEdges"/>
<text x="498.5" y="301.8" font-family="Liberation Sans, sans-serif" font-size="12" fill="#0808ff" stroke="#0808ff" stroke-width="0.25" text-anchor="end">161.8%</text>
<text x="498.5" y="387.8" font-family="Liberation Sans, sans-serif" font-size="12" fill="#0808ff" stroke="#0808ff" stroke-width="0.25" text-anchor="end">100.0%</text>
<text x="498.5" y="441.8" font-family="Liberation Sans, sans-serif" font-size="12" fill="#0808ff" stroke="#0808ff" stroke-width="0.25" text-anchor="end">61.8%</text>
<text x="498.5" y="458.8" font-family="Liberation Sans, sans-serif" font-size="12" fill="#0808ff" stroke="#0808ff" stroke-width="0.25" text-anchor="end">50.0%</text>
<text x="498.5" y="474.8" font-family="Liberation Sans, sans-serif" font-size="12" fill="#0808ff" stroke="#0808ff" stroke-width="0.25" text-anchor="end">38.2%</text>
<text x="498.5" y="495.8" font-family="Liberation Sans, sans-serif" font-size="12" fill="#0808ff" stroke="#0808ff" stroke-width="0.25" text-anchor="end">23.6%</text>
<text x="498.5" y="528.8" font-family="Liberation Sans, sans-serif" font-size="12" fill="#0808ff" stroke="#0808ff" stroke-width="0.25" text-anchor="end">0.0%</text>
</g>
<g clip-path="url(#c4)">
<rect x="-1" y="646.2" width="2" height="8.8" fill="#008a00"/>
<rect x="2" y="644.0" width="2" height="11.0" fill="#008a00"/>
<rect x="4" y="646.2" width="2" height="8.8" fill="#008a00"/>
<rect x="6" y="646.2" width="2" height="8.8" fill="#008a00"/>
<rect x="8" y="646.2" width="2" height="8.8" fill="#008a00"/>
<rect x="10" y="647.9" width="2" height="7.1" fill="#008a00"/>
<rect x="12" y="648.7" width="2" height="6.3" fill="#008a00"/>
<rect x="14" y="647.0" width="2" height="8.0" fill="#008a00"/>
<rect x="17" y="647.0" width="2" height="8.0" fill="#008a00"/>
<rect x="19" y="647.0" width="2" height="8.0" fill="#008a00"/>
<rect x="21" y="647.0" width="2" height="8.0" fill="#008a00"/>
<rect x="23" y="647.0" width="2" height="8.0" fill="#008a00"/>
<rect x="25" y="649.0" width="2" height="6.0" fill="#008a00"/>
<rect x="27" y="647.0" width="2" height="8.0" fill="#008a00"/>
<rect x="30" y="647.0" width="2" height="8.0" fill="#008a00"/>
<rect x="32" y="638.3" width="2" height="16.7" fill="#008a00"/>
<rect x="34" y="645.3" width="2" height="9.7" fill="#008a00"/>
<rect x="36" y="624.9" width="2" height="30.1" fill="#008a00"/>
<rect x="38" y="641.1" width="2" height="13.9" fill="#008a00"/>
<rect x="40" y="642.3" width="2" height="12.7" fill="#008a00"/>
<rect x="43" y="645.3" width="2" height="9.7" fill="#008a00"/>
<rect x="45" y="645.3" width="2" height="9.7" fill="#008a00"/>
<rect x="47" y="636.1" width="2" height="18.9" fill="#008a00"/>
<rect x="49" y="642.0" width="2" height="13.0" fill="#008a00"/>
<rect x="51" y="648.7" width="2" height="6.3" fill="#008a00"/>
<rect x="53" y="647.0" width="2" height="8.0" fill="#008a00"/>
<rect x="55" y="646.2" width="2" height="8.8" fill="#008a00"/>
<rect x="58" y="647.9" width="2" height="7.1" fill="#008a00"/>
<rect x="60" y="649.5" width="2" height="5.5" fill="#008a00"/>
<rect x="62" y="646.2" width="2" height="8.8" fill="#008a00"/>
<rect x="64" y="646.2" width="2" height="8.8" fill="#008a00"/>
<rect x="66" y="642.0" width="2" height="13.0" fill="#008a00"/>
<rect x="68" y="637.3" width="2" height="17.7" fill="#008a00"/>
<rect x="71" y="638.6" width="2" height="16.4" fill="#008a00"/>
<rect x="73" y="644.5" width="2" height="10.5" fill="#008a00"/>
<rect x="75" y="644.5" width="2" height="10.5" fill="#008a00"/>
<rect x="77" y="644.5" width="2" height="10.5" fill="#008a00"/>
<rect x="79" y="647.9" width="2" height="7.1" fill="#008a00"/>
<rect x="81" y="646.7" width="2" height="8.3" fill="#008a00"/>
<rect x="84" y="646.7" width="2" height="8.3" fill="#008a00"/>
<rect x="86" y="639.1" width="2" height="15.9" fill="#008a00"/>
<rect x="88" y="647.0" width="2" height="8.0" fill="#008a00"/>
<rect x="90" y="641.7" width="2" height="13.3" fill="#008a00"/>
<rect x="92" y="641.7" width="2" height="13.3" fill="#008a00"/>
<rect x="94" y="640.0" width="2" height="15.0" fill="#008a00"/>
<rect x="96" y="646.2" width="2" height="8.8" fill="#008a00"/>
<rect x="99" y="617.2" width="2" height="37.8" fill="#008a00"/>
<rect x="101" y="638.6" width="2" height="16.4" fill="#008a00"/>
<rect x="103" y="638.6" width="2" height="16.4" fill="#008a00"/>
<rect x="105" y="613.1" width="2" height="41.9" fill="#008a00"/>
<rect x="107" y="634.9" width="2" height="20.1" fill="#008a00"/>
<rect x="109" y="640.3" width="2" height="14.7" fill="#008a00"/>
<rect x="112" y="641.7" width="2" height="13.3" fill="#008a00"/>
<rect x="114" y="641.7" width="2" height="13.3" fill="#008a00"/>
<rect x="116" y="631.9" width="2" height="23.1" fill="#008a00"/>
<rect x="118" y="640.3" width="2" height="14.7" fill="#008a00"/>
<rect x="120" y="647.9" width="2" height="7.1" fill="#008a00"/>
<rect x="122" y="641.1" width="2" height="13.9" fill="#008a00"/>
<rect x="125" y="635.6" width="2" height="19.4" fill="#008a00"/>
<rect x="127" y="643.7" width="2" height="11.3" fill="#008a00"/>
<rect x="129" y="628.2" width="2" height="26.8" fill="#008a00"/>
<rect x="131" y="605.1" width="2" height="49.9" fill="#008a00"/>
<rect x="133" y="616.8" width="2" height="38.2" fill="#008a00"/>
<rect x="135" y="615.2" width="2" height="39.8" fill="#008a00"/>
<rect x="137" y="651.2" width="2" height="3.8" fill="#008a00"/>
<rect x="140" y="610.1" width="2" height="44.9" fill="#008a00"/>
<rect x="142" y="633.6" width="2" height="21.4" fill="#008a00"/>
<rect x="144" y="636.1" width="2" height="18.9" fill="#008a00"/>
<rect x="146" y="613.1" width="2" height="41.9" fill="#008a00"/>
<rect x="148" y="633.6" width="2" height="21.4" fill="#008a00"/>
<rect x="150" y="637.0" width="2" height="18.0" fill="#008a00"/>
<rect x="153" y="643.7" width="2" height="11.3" fill="#008a00"/>
<rect x="155" y="633.6" width="2" height="21.4" fill="#008a00"/>
<rect x="157" y="641.1" width="2" height="13.9" fill="#008a00"/>
<rect x="159" y="636.1" width="2" height="18.9" fill="#008a00"/>
<rect x="161" y="642.0" width="2" height="13.0" fill="#008a00"/>
<rect x="163" y="644.5" width="2" height="10.5" fill="#008a00"/>
<rect x="165" y="647.0" width="2" height="8.0" fill="#008a00"/>
<rect x="168" y="637.0" width="2" height="18.0" fill="#008a00"/>
<rect x="170" y="641.1" width="2" height="13.9" fill="#008a00"/>
<rect x="172" y="645.3" width="2" height="9.7" fill="#008a00"/>
<rect x="174" y="624.9" width="2" height="30.1" fill="#008a00"/>
<rect x="176" y="634.4" width="2" height="20.6" fill="#008a00"/>
<rect x="178" y="633.9" width="2" height="21.1" fill="#008a00"/>
<rect x="181" y="634.4" width="2" height="20.6" fill="#008a00"/>
<rect x="183" y="626.1" width="2" height="28.9" fill="#008a00"/>
<rect x="185" y="634.4" width="2" height="20.6" fill="#008a00"/>
<rect x="187" y="636.1" width="2" height="18.9" fill="#008a00"/>
<rect x="189" y="631.1" width="2" height="23.9" fill="#008a00"/>
<rect x="191" y="637.8" width="2" height="17.2" fill="#008a00"/>
<rect x="194" y="639.5" width="2" height="15.5" fill="#008a00"/>
<rect x="196" y="639.0" width="2" height="16.0" fill="#008a00"/>
<rect x="198" y="643.7" width="2" height="11.3" fill="#008a00"/>
<rect x="200" y="644.5" width="2" height="10.5" fill="#008a00"/>
<rect x="202" y="641.1" width="2" height="13.9" fill="#008a00"/>
<rect x="204" y="644.5" width="2" height="10.5" fill="#008a00"/>
<rect x="206" y="647.0" width="2" height="8.0" fill="#008a00"/>
<rect x="209" y="645.0" width="2" height="10.0" fill="#008a00"/>
<rect x="211" y="647.0" width="2" height="8.0" fill="#008a00"/>
<rect x="213" y="646.2" width="2" height="8.8" fill="#008a00"/>
<rect x="215" y="647.0" width="2" height="8.0" fill="#008a00"/>
<rect x="217" y="648.7" width="2" height="6.3" fill="#008a00"/>
<rect x="219" y="642.0" width="2" height="13.0" fill="#008a00"/>
<rect x="222" y="647.0" width="2" height="8.0" fill="#008a00"/>
<rect x="224" y="646.2" width="2" height="8.8" fill="#008a00"/>
<rect x="226" y="643.7" width="2" height="11.3" fill="#008a00"/>
<rect x="228" y="643.7" width="2" height="11.3" fill="#008a00"/>
<rect x="230" y="639.5" width="2" height="15.5" fill="#008a00"/>
<rect x="232" y="634.9" width="2" height="20.1" fill="#008a00"/>
<rect x="235" y="643.7" width="2" height="11.3" fill="#008a00"/>
<rect x="237" y="639.0" width="2" height="16.0" fill="#008a00"/>
<rect x="239" y="641.1" width="2" height="13.9" fill="#008a00"/>
<rect x="241" y="643.7" width="2" height="11.3" fill="#008a00"/>
<rect x="243" y="643.7" width="2" height="11.3" fill="#008a00"/>
<rect x="245" y="643.7" width="2" height="11.3" fill="#008a00"/>
<rect x="247" y="640.0" width="2" height="15.0" fill="#008a00"/>
<rect x="250" y="643.7" width="2" height="11.3" fill="#008a00"/>
<rect x="252" y="642.8" width="2" height="12.2" fill="#008a00"/>
<rect x="254" y="638.3" width="2" height="16.7" fill="#008a00"/>
<rect x="256" y="643.7" width="2" height="11.3" fill="#008a00"/>
<rect x="258" y="644.5" width="2" height="10.5" fill="#008a00"/>
<rect x="260" y="638.6" width="2" height="16.4" fill="#008a00"/>
<rect x="263" y="624.9" width="2" height="30.1" fill="#008a00"/>
<rect x="265" y="638.6" width="2" height="16.4" fill="#008a00"/>
<rect x="267" y="634.9" width="2" height="20.1" fill="#008a00"/>
<rect x="269" y="626.1" width="2" height="28.9" fill="#008a00"/>
<rect x="271" y="642.0" width="2" height="13.0" fill="#008a00"/>
<rect x="273" y="629.1" width="2" height="25.9" fill="#008a00"/>
<rect x="275" y="640.3" width="2" height="14.7" fill="#008a00"/>
<rect x="278" y="645.3" width="2" height="9.7" fill="#008a00"/>
<rect x="280" y="642.0" width="2" height="13.0" fill="#008a00"/>
<rect x="282" y="634.9" width="2" height="20.1" fill="#008a00"/>
<rect x="284" y="639.5" width="2" height="15.5" fill="#008a00"/>
<rect x="286" y="639.5" width="2" height="15.5" fill="#008a00"/>
<rect x="288" y="639.5" width="2" height="15.5" fill="#008a00"/>
<rect x="291" y="639.5" width="2" height="15.5" fill="#008a00"/>
<rect x="293" y="638.6" width="2" height="16.4" fill="#008a00"/>
<rect x="295" y="642.0" width="2" height="13.0" fill="#008a00"/>
<rect x="297" y="636.1" width="2" height="18.9" fill="#008a00"/>
<rect x="299" y="616.8" width="2" height="38.2" fill="#008a00"/>
<rect x="301" y="637.0" width="2" height="18.0" fill="#008a00"/>
<rect x="304" y="633.3" width="2" height="21.7" fill="#008a00"/>
<rect x="306" y="628.9" width="2" height="26.1" fill="#008a00"/>
<rect x="308" y="642.8" width="2" height="12.2" fill="#008a00"/>
<rect x="310" y="628.2" width="2" height="26.8" fill="#008a00"/>
<rect x="312" y="627.2" width="2" height="27.8" fill="#008a00"/>
<rect x="314" y="631.9" width="2" height="23.1" fill="#008a00"/>
<rect x="316" y="633.9" width="2" height="21.1" fill="#008a00"/>
<rect x="319" y="629.9" width="2" height="25.1" fill="#008a00"/>
<rect x="321" y="628.9" width="2" height="26.1" fill="#008a00"/>
<rect x="323" y="604.3" width="2" height="50.7" fill="#008a00"/>
<rect x="325" y="612.6" width="2" height="42.4" fill="#008a00"/>
<rect x="327" y="611.0" width="2" height="44.0" fill="#008a00"/>
<rect x="329" y="630.2" width="2" height="24.8" fill="#008a00"/>
<rect x="332" y="632.8" width="2" height="22.2" fill="#008a00"/>
<rect x="334" y="608.1" width="2" height="46.9" fill="#008a00"/>
<rect x="336" y="634.4" width="2" height="20.6" fill="#008a00"/>
<rect x="338" y="637.0" width="2" height="18.0" fill="#008a00"/>
<rect x="340" y="638.6" width="2" height="16.4" fill="#008a00"/>
<rect x="342" y="641.1" width="2" height="13.9" fill="#008a00"/>
<rect x="345" y="610.1" width="2" height="44.9" fill="#008a00"/>
<rect x="347" y="638.6" width="2" height="16.4" fill="#008a00"/>
<rect x="349" y="628.9" width="2" height="26.1" fill="#008a00"/>
<rect x="351" y="631.9" width="2" height="23.1" fill="#008a00"/>
<rect x="353" y="628.9" width="2" height="26.1" fill="#008a00"/>
<rect x="355" y="633.6" width="2" height="21.4" fill="#008a00"/>
<rect x="357" y="630.2" width="2" height="24.8" fill="#008a00"/>
<rect x="360" y="638.6" width="2" height="16.4" fill="#008a00"/>
<rect x="362" y="641.1" width="2" height="13.9" fill="#008a00"/>
<rect x="364" y="637.0" width="2" height="18.0" fill="#008a00"/>
<rect x="366" y="637.0" width="2" height="18.0" fill="#008a00"/>
<rect x="368" y="622.2" width="2" height="32.8" fill="#008a00"/>
<rect x="370" y="637.0" width="2" height="18.0" fill="#008a00"/>
<rect x="373" y="608.1" width="2" height="46.9" fill="#008a00"/>
<rect x="375" y="634.9" width="2" height="20.1" fill="#008a00"/>
<rect x="377" y="600.1" width="2" height="54.9" fill="#008a00"/>
<rect x="379" y="616.8" width="2" height="38.2" fill="#008a00"/>
<rect x="381" y="611.8" width="2" height="43.2" fill="#008a00"/>
<rect x="383" y="637.0" width="2" height="18.0" fill="#008a00"/>
<rect x="386" y="637.0" width="2" height="18.0" fill="#008a00"/>
<rect x="388" y="634.9" width="2" height="20.1" fill="#008a00"/>
<rect x="390" y="629.9" width="2" height="25.1" fill="#008a00"/>
<rect x="392" y="626.1" width="2" height="28.9" fill="#008a00"/>
<rect x="394" y="637.0" width="2" height="18.0" fill="#008a00"/>
<rect x="396" y="637.8" width="2" height="17.2" fill="#008a00"/>
<rect x="398" y="636.1" width="2" height="18.9" fill="#008a00"/>
<rect x="401" y="638.6" width="2" height="16.4" fill="#008a00"/>
<rect x="403" y="640.3" width="2" height="14.7" fill="#008a00"/>
<rect x="405" y="642.0" width="2" height="13.0" fill="#008a00"/>
<rect x="407" y="641.1" width="2" height="13.9" fill="#008a00"/>
<rect x="409" y="633.9" width="2" height="21.1" fill="#008a00"/>
<rect x="411" y="636.1" width="2" height="18.9" fill="#008a00"/>
<rect x="414" y="625.2" width="2" height="29.8" fill="#008a00"/>
<rect x="416" y="611.0" width="2" height="44.0" fill="#008a00"/>
<rect x="418" y="635.3" width="2" height="19.7" fill="#008a00"/>
<rect x="420" y="634.4" width="2" height="20.6" fill="#008a00"/>
<rect x="422" y="621.0" width="2" height="34.0" fill="#008a00"/>
<rect x="424" y="609.3" width="2" height="45.7" fill="#008a00"/>
<rect x="426" y="611.8" width="2" height="43.2" fill="#008a00"/>
<rect x="429" y="638.6" width="2" height="16.4" fill="#008a00"/>
<rect x="431" y="621.9" width="2" height="33.1" fill="#008a00"/>
<rect x="433" y="624.4" width="2" height="30.6" fill="#008a00"/>
<rect x="435" y="605.9" width="2" height="49.1" fill="#008a00"/>
<rect x="437" y="640.3" width="2" height="14.7" fill="#008a00"/>
<rect x="439" y="633.3" width="2" height="21.7" fill="#008a00"/>
<rect x="442" y="620.2" width="2" height="34.8" fill="#008a00"/>
<rect x="444" y="605.9" width="2" height="49.1" fill="#008a00"/>
<rect x="446" y="630.2" width="2" height="24.8" fill="#008a00"/>
<rect x="448" y="626.1" width="2" height="28.9" fill="#008a00"/>
<rect x="450" y="640.3" width="2" height="14.7" fill="#008a00"/>
<rect x="452" y="638.6" width="2" height="16.4" fill="#008a00"/>
<rect x="455" y="640.3" width="2" height="14.7" fill="#008a00"/>
<rect x="457" y="639.0" width="2" height="16.0" fill="#008a00"/>
<rect x="459" y="640.3" width="2" height="14.7" fill="#008a00"/>
<rect x="461" y="642.8" width="2" height="12.2" fill="#008a00"/>
<rect x="463" y="642.8" width="2" height="12.2" fill="#008a00"/>
<rect x="465" y="643.7" width="2" height="11.3" fill="#008a00"/>
<rect x="467" y="639.0" width="2" height="16.0" fill="#008a00"/>
<rect x="470" y="641.7" width="2" height="13.3" fill="#008a00"/>
<rect x="472" y="642.8" width="2" height="12.2" fill="#008a00"/>
<rect x="474" y="636.1" width="2" height="18.9" fill="#008a00"/>
<rect x="476" y="643.7" width="2" height="11.3" fill="#008a00"/>
<rect x="478" y="642.0" width="2" height="13.0" fill="#008a00"/>
<rect x="480" y="644.0" width="2" height="11.0" fill="#008a00"/>
<rect x="483" y="643.3" width="2" height="11.7" fill="#008a00"/>
<rect x="485" y="640.0" width="2" height="15.0" fill="#008a00"/>
<rect x="487" y="647.0" width="2" height="8.0" fill="#008a00"/>
<rect x="489" y="647.0" width="2" height="8.0" fill="#008a00"/>
<rect x="491" y="640.3" width="2" height="14.7" fill="#008a00"/>
<rect x="493" y="638.6" width="2" height="16.4" fill="#008a00"/>
<rect x="496" y="637.0" width="2" height="18.0" fill="#008a00"/>
<rect x="498" y="641.1" width="2" height="13.9" fill="#008a00"/>
<rect x="500" y="631.1" width="2" height="23.9" fill="#008a00"/>
<rect x="502" y="644.5" width="2" height="10.5" fill="#008a00"/>
<rect x="504" y="641.1" width="2" height="13.9" fill="#008a00"/>
<rect x="506" y="640.3" width="2" height="14.7" fill="#008a00"/>
<rect x="508" y="646.2" width="2" height="8.8" fill="#008a00"/>
<rect x="511" y="639.0" width="2" height="16.0" fill="#008a00"/>
<rect x="513" y="639.5" width="2" height="15.5" fill="#008a00"/>
<rect x="515" y="641.1" width="2" height="13.9" fill="#008a00"/>
<rect x="517" y="641.1" width="2" height="13.9" fill="#008a00"/>
<rect x="519" y="640.0" width="2" height="15.0" fill="#008a00"/>
<rect x="521" y="641.1" width="2" height="13.9" fill="#008a00"/>
<rect x="524" y="645.0" width="2" height="10.0" fill="#008a00"/>
<rect x="526" y="642.0" width="2" height="13.0" fill="#008a00"/>
<rect x="528" y="639.0" width="2" height="16.0" fill="#008a00"/>
<rect x="530" y="639.0" width="2" height="16.0" fill="#008a00"/>
<rect x="532" y="637.0" width="2" height="18.0" fill="#008a00"/>
<rect x="534" y="647.0" width="2" height="8.0" fill="#008a00"/>
<rect x="536" y="638.3" width="2" height="16.7" fill="#008a00"/>
<rect x="539" y="640.3" width="2" height="14.7" fill="#008a00"/>
<rect x="541" y="628.2" width="2" height="26.8" fill="#008a00"/>
<rect x="543" y="640.3" width="2" height="14.7" fill="#008a00"/>
<rect x="545" y="640.3" width="2" height="14.7" fill="#008a00"/>
<rect x="547" y="633.3" width="2" height="21.7" fill="#008a00"/>
<rect x="549" y="631.9" width="2" height="23.1" fill="#008a00"/>
<rect x="552" y="627.2" width="2" height="27.8" fill="#008a00"/>
<rect x="554" y="638.6" width="2" height="16.4" fill="#008a00"/>
<rect x="556" y="638.6" width="2" height="16.4" fill="#008a00"/>
<rect x="558" y="600.1" width="2" height="54.9" fill="#008a00"/>
<rect x="560" y="620.2" width="2" height="34.8" fill="#008a00"/>
<rect x="562" y="621.0" width="2" height="34.0" fill="#008a00"/>
<rect x="565" y="634.4" width="2" height="20.6" fill="#008a00"/>
<rect x="567" y="633.3" width="2" height="21.7" fill="#008a00"/>
<rect x="569" y="633.3" width="2" height="21.7" fill="#008a00"/>
<rect x="571" y="628.2" width="2" height="26.8" fill="#008a00"/>
<rect x="573" y="630.2" width="2" height="24.8" fill="#008a00"/>
<rect x="575" y="627.2" width="2" height="27.8" fill="#008a00"/>
<rect x="577" y="631.9" width="2" height="23.1" fill="#008a00"/>
<path d="M0.0,646.2 L16.8,646.2 L18.4,647.0 L33.5,647.0 L36.1,645.3 L40.2,644.5 L47.0,644.5 L50.3,643.7 L67.1,643.7 L72.1,642.8 L78.0,642.8 L81.3,644.5 L97.3,644.5 L100.0,643.7 L106.7,640.0 L116.8,639.5 L125.2,638.6 L130.2,637.8 L133.5,634.9 L141.9,631.9 L148.6,631.6 L170.4,631.6 L175.5,634.4 L180.5,635.3 L187.2,635.6 L191.4,637.0 L200.0,638.1 L210.1,638.6 L216.8,639.5 L221.8,640.3 L226.8,642.3 L233.5,643.7 L241.9,644.0 L250.3,643.7 L255.3,642.8 L261.2,642.8 L265.4,640.3 L270.4,640.3 L275.5,639.0 L287.2,639.0 L291.4,638.1 L300.0,637.8 L305.0,635.6 L320.1,635.6 L325.2,633.3 L331.0,629.4 L335.2,628.6 L339.4,626.4 L345.3,627.7 L353.7,626.1 L364.6,626.9 L368.8,629.9 L373.8,629.9 L380.5,628.9 L384.7,626.6 L393.9,627.7 L400.0,628.6 L410.1,629.4 L418.4,630.2 L422.6,631.9 L427.7,631.6 L433.5,630.2 L443.6,628.9 L447.8,625.6 L453.7,624.7 L457.9,625.6 L463.7,627.2 L468.8,629.4 L472.9,631.9 L478.8,633.3 L483.9,636.1 L490.6,640.0 L497.3,640.8 L500.0,640.8 L516.8,640.8 L518.4,641.7 L521.8,640.8 L526.8,641.7 L531.9,640.3 L547.0,640.3 L553.7,639.5 L558.7,636.1 L565.4,633.3 L570.4,631.6 L577.1,630.6 L578.8,630.8" fill="none" stroke="#ff0000" stroke-width="2.2" stroke-linejoin="round" shape-rendering="crispEdges"/>
</g>
<rect x="592" y="0" width="1.3" height="88" fill="#000"/>
<rect x="593" y="1" width="8" height="1" fill="#000"/>
<rect x="593" y="9" width="3.2000000000000455" height="1" fill="#000"/>
<rect x="593" y="17" width="3.2000000000000455" height="1" fill="#000"/>
<rect x="593" y="25" width="3.2000000000000455" height="1" fill="#000"/>
<rect x="593" y="33" width="3.2000000000000455" height="1" fill="#000"/>
<rect x="593" y="41" width="8" height="1" fill="#000"/>
<rect x="593" y="49" width="3.2000000000000455" height="1" fill="#000"/>
<rect x="593" y="57" width="3.2000000000000455" height="1" fill="#000"/>
<rect x="593" y="65" width="3.2000000000000455" height="1" fill="#000"/>
<rect x="593" y="73" width="3.2000000000000455" height="1" fill="#000"/>
<rect x="593" y="82" width="8" height="1" fill="#000"/>
<text x="638.5" y="46.8" font-family="Liberation Sans, sans-serif" font-size="12" fill="#0a0a1e" text-anchor="end">50</text>
<rect x="0" y="88.4" width="643" height="1.6" fill="#e6e6e6"/>
<rect x="0" y="90" width="643" height="1.9" fill="#7c7c7c"/>
<rect x="592" y="92" width="1.3" height="96" fill="#000"/>
<rect x="593" y="94" width="3.2000000000000455" height="1" fill="#000"/>
<rect x="593" y="103" width="3.2000000000000455" height="1" fill="#000"/>
<rect x="593" y="111" width="3.2000000000000455" height="1" fill="#000"/>
<rect x="593" y="119" width="3.2000000000000455" height="1" fill="#000"/>
<rect x="593" y="128" width="8" height="1" fill="#000"/>
<rect x="593" y="136" width="3.2000000000000455" height="1" fill="#000"/>
<rect x="593" y="145" width="3.2000000000000455" height="1" fill="#000"/>
<rect x="593" y="153" width="3.2000000000000455" height="1" fill="#000"/>
<rect x="593" y="161" width="3.2000000000000455" height="1" fill="#000"/>
<rect x="593" y="170" width="8" height="1" fill="#000"/>
<rect x="593" y="178" width="3.2000000000000455" height="1" fill="#000"/>
<rect x="593" y="187" width="3.2000000000000455" height="1" fill="#000"/>
<text x="638.5" y="132.9" font-family="Liberation Sans, sans-serif" font-size="12" fill="#0a0a1e" text-anchor="end">0</text>
<text x="638.5" y="174.9" font-family="Liberation Sans, sans-serif" font-size="12" fill="#0a0a1e" text-anchor="end">-5000</text>
<rect x="0" y="187.70000000000002" width="643" height="1.6" fill="#e6e6e6"/>
<rect x="0" y="189.3" width="643" height="1.9" fill="#7c7c7c"/>
<rect x="592" y="191.5" width="1.3" height="400.5" fill="#000"/>
<rect x="593" y="199" width="3.2000000000000455" height="1" fill="#000"/>
<rect x="593" y="206" width="3.2000000000000455" height="1" fill="#000"/>
<rect x="593" y="214" width="3.2000000000000455" height="1" fill="#000"/>
<rect x="593" y="222" width="3.2000000000000455" height="1" fill="#000"/>
<rect x="593" y="229" width="8" height="1" fill="#000"/>
<rect x="593" y="237" width="3.2000000000000455" height="1" fill="#000"/>
<rect x="593" y="244" width="3.2000000000000455" height="1" fill="#000"/>
<rect x="593" y="252" width="3.2000000000000455" height="1" fill="#000"/>
<rect x="593" y="259" width="3.2000000000000455" height="1" fill="#000"/>
<rect x="593" y="267" width="8" height="1" fill="#000"/>
<rect x="593" y="275" width="3.2000000000000455" height="1" fill="#000"/>
<rect x="593" y="282" width="3.2000000000000455" height="1" fill="#000"/>
<rect x="593" y="290" width="3.2000000000000455" height="1" fill="#000"/>
<rect x="593" y="297" width="3.2000000000000455" height="1" fill="#000"/>
<rect x="593" y="305" width="8" height="1" fill="#000"/>
<rect x="593" y="313" width="3.2000000000000455" height="1" fill="#000"/>
<rect x="593" y="320" width="3.2000000000000455" height="1" fill="#000"/>
<rect x="593" y="328" width="3.2000000000000455" height="1" fill="#000"/>
<rect x="593" y="335" width="3.2000000000000455" height="1" fill="#000"/>
<rect x="593" y="343" width="8" height="1" fill="#000"/>
<rect x="593" y="350" width="3.2000000000000455" height="1" fill="#000"/>
<rect x="593" y="358" width="3.2000000000000455" height="1" fill="#000"/>
<rect x="593" y="366" width="3.2000000000000455" height="1" fill="#000"/>
<rect x="593" y="373" width="3.2000000000000455" height="1" fill="#000"/>
<rect x="593" y="381" width="8" height="1" fill="#000"/>
<rect x="593" y="388" width="3.2000000000000455" height="1" fill="#000"/>
<rect x="593" y="396" width="3.2000000000000455" height="1" fill="#000"/>
<rect x="593" y="404" width="3.2000000000000455" height="1" fill="#000"/>
<rect x="593" y="411" width="3.2000000000000455" height="1" fill="#000"/>
<rect x="593" y="419" width="8" height="1" fill="#000"/>
<rect x="593" y="426" width="3.2000000000000455" height="1" fill="#000"/>
<rect x="593" y="434" width="3.2000000000000455" height="1" fill="#000"/>
<rect x="593" y="441" width="3.2000000000000455" height="1" fill="#000"/>
<rect x="593" y="449" width="3.2000000000000455" height="1" fill="#000"/>
<rect x="593" y="457" width="8" height="1" fill="#000"/>
<rect x="593" y="464" width="3.2000000000000455" height="1" fill="#000"/>
<rect x="593" y="472" width="3.2000000000000455" height="1" fill="#000"/>
<rect x="593" y="479" width="3.2000000000000455" height="1" fill="#000"/>
<rect x="593" y="487" width="3.2000000000000455" height="1" fill="#000"/>
<rect x="593" y="494" width="8" height="1" fill="#000"/>
<rect x="593" y="502" width="3.2000000000000455" height="1" fill="#000"/>
<rect x="593" y="510" width="3.2000000000000455" height="1" fill="#000"/>
<rect x="593" y="517" width="3.2000000000000455" height="1" fill="#000"/>
<rect x="593" y="525" width="3.2000000000000455" height="1" fill="#000"/>
<rect x="593" y="532" width="8" height="1" fill="#000"/>
<rect x="593" y="540" width="3.2000000000000455" height="1" fill="#000"/>
<rect x="593" y="548" width="3.2000000000000455" height="1" fill="#000"/>
<rect x="593" y="555" width="3.2000000000000455" height="1" fill="#000"/>
<rect x="593" y="563" width="3.2000000000000455" height="1" fill="#000"/>
<rect x="593" y="570" width="8" height="1" fill="#000"/>
<rect x="593" y="585" width="3.2000000000000455" height="1" fill="#000"/>
<text x="638.5" y="234.8" font-family="Liberation Sans, sans-serif" font-size="12" fill="#0a0a1e" text-anchor="end">13000</text>
<text x="638.5" y="272.8" font-family="Liberation Sans, sans-serif" font-size="12" fill="#0a0a1e" text-anchor="end">12500</text>
<text x="638.5" y="310.8" font-family="Liberation Sans, sans-serif" font-size="12" fill="#0a0a1e" text-anchor="end">12000</text>
<text x="638.5" y="348.8" font-family="Liberation Sans, sans-serif" font-size="12" fill="#0a0a1e" text-anchor="end">11500</text>
<text x="638.5" y="386.8" font-family="Liberation Sans, sans-serif" font-size="12" fill="#0a0a1e" text-anchor="end">11000</text>
<text x="638.5" y="424.8" font-family="Liberation Sans, sans-serif" font-size="12" fill="#0a0a1e" text-anchor="end">10500</text>
<text x="638.5" y="462.8" font-family="Liberation Sans, sans-serif" font-size="12" fill="#0a0a1e" text-anchor="end">10000</text>
<text x="638.5" y="499.8" font-family="Liberation Sans, sans-serif" font-size="12" fill="#0a0a1e" text-anchor="end">9500</text>
<text x="638.5" y="537.8" font-family="Liberation Sans, sans-serif" font-size="12" fill="#0a0a1e" text-anchor="end">9000</text>
<text x="638.5" y="575.8" font-family="Liberation Sans, sans-serif" font-size="12" fill="#0a0a1e" text-anchor="end">8500</text>
<rect x="597" y="400" width="46" height="15.8" fill="#000"/>
<text x="598.8" y="412" font-family="Liberation Sans, sans-serif" font-size="10.7" fill="#00ee00">106300.0</text>
<rect x="594.5" y="578.5" width="18" height="14" fill="#fff" stroke="#000" stroke-width="1"/>
<text x="596" y="588" font-family="Liberation Sans, sans-serif" font-size="9" fill="#0a0a1e">x10</text>
<rect x="0" y="591.6999999999999" width="643" height="1.6" fill="#e6e6e6"/>
<rect x="0" y="593.3" width="643" height="1.9" fill="#7c7c7c"/>
<rect x="592" y="595.2" width="1.3" height="62.299999999999955" fill="#000"/>
<rect x="593" y="597" width="3.2000000000000455" height="1" fill="#000"/>
<rect x="593" y="608" width="8" height="1" fill="#000"/>
<rect x="593" y="620" width="3.2000000000000455" height="1" fill="#000"/>
<rect x="593" y="631" width="8" height="1" fill="#000"/>
<rect x="593" y="642" width="3.2000000000000455" height="1" fill="#000"/>
<text x="638.5" y="614.3" font-family="Liberation Sans, sans-serif" font-size="12" fill="#0a0a1e" text-anchor="end">20000</text>
<text x="638.5" y="637.0" font-family="Liberation Sans, sans-serif" font-size="12" fill="#0a0a1e" text-anchor="end">10000</text>
<rect x="594.5" y="644.5" width="28.7" height="14" fill="#fff" stroke="#000" stroke-width="1"/>
<text x="596.2" y="654" font-family="Liberation Sans, sans-serif" font-size="9" fill="#0a0a1e">x1000</text>
<rect x="593" y="657.3" width="51" height="21" fill="#f0f0f0"/>
<rect x="0" y="656.6" width="593" height="1.2" fill="#000"/>
<rect x="4.5" y="657" width="1" height="5.5" fill="#000"/>
<rect x="15.5" y="657" width="1" height="5.5" fill="#000"/>
<rect x="26.3" y="657" width="1" height="5.5" fill="#000"/>
<rect x="48.1" y="657" width="1" height="5.5" fill="#000"/>
<rect x="59.0" y="657" width="1" height="5.5" fill="#000"/>
<rect x="69.9" y="657" width="1" height="5.5" fill="#000"/>
<rect x="91.5" y="657" width="1" height="5.5" fill="#000"/>
<rect x="102.1" y="657" width="1" height="5.5" fill="#000"/>
<rect x="112.9" y="657" width="1" height="5.5" fill="#000"/>
<rect x="123.8" y="657" width="1" height="5.5" fill="#000"/>
<rect x="134.7" y="657" width="1" height="5.5" fill="#000"/>
<rect x="143.1" y="657" width="1" height="5.5" fill="#000"/>
<rect x="154.0" y="657" width="1" height="5.5" fill="#000"/>
<rect x="164.9" y="657" width="1" height="5.5" fill="#000"/>
<rect x="180.0" y="657" width="1" height="5.5" fill="#000"/>
<rect x="191.4" y="657" width="1" height="5.5" fill="#000"/>
<rect x="202.1" y="657" width="1" height="5.5" fill="#000"/>
<rect x="223.0" y="657" width="1" height="5.5" fill="#000"/>
<rect x="233.9" y="657" width="1" height="5.5" fill="#000"/>
<rect x="244.8" y="657" width="1" height="5.5" fill="#000"/>
<rect x="255.7" y="657" width="1" height="5.5" fill="#000"/>
<rect x="266.6" y="657" width="1" height="5.5" fill="#000"/>
<rect x="277.0" y="657" width="1" height="5.5" fill="#000"/>
<rect x="287.9" y="657" width="1" height="5.5" fill="#000"/>
<rect x="298.8" y="657" width="1" height="5.5" fill="#000"/>
<rect x="320.5" y="657" width="1" height="5.5" fill="#000"/>
<rect x="331.4" y="657" width="1" height="5.5" fill="#000"/>
<rect x="342.3" y="657" width="1" height="5.5" fill="#000"/>
<rect x="359.9" y="657" width="1" height="5.5" fill="#000"/>
<rect x="369.9" y="657" width="1" height="5.5" fill="#000"/>
<rect x="381.2" y="657" width="1" height="5.5" fill="#000"/>
<rect x="392.1" y="657" width="1" height="5.5" fill="#000"/>
<rect x="402.9" y="657" width="1" height="5.5" fill="#000"/>
<rect x="413.8" y="657" width="1" height="5.5" fill="#000"/>
<rect x="424.3" y="657" width="1" height="5.5" fill="#000"/>
<rect x="435.1" y="657" width="1" height="5.5" fill="#000"/>
<rect x="456.5" y="657" width="1" height="5.5" fill="#000"/>
<rect x="467.4" y="657" width="1" height="5.5" fill="#000"/>
<rect x="478.7" y="657" width="1" height="5.5" fill="#000"/>
<rect x="500.1" y="657" width="1" height="5.5" fill="#000"/>
<rect x="511.2" y="657" width="1" height="5.5" fill="#000"/>
<rect x="522.1" y="657" width="1" height="5.5" fill="#000"/>
<rect x="533.0" y="657" width="1" height="5.5" fill="#000"/>
<rect x="549.8" y="657" width="1" height="5.5" fill="#000"/>
<rect x="560.7" y="657" width="1" height="5.5" fill="#000"/>
<rect x="571.9" y="657" width="1" height="5.5" fill="#000"/>
<rect x="0.8" y="657" width="1.1" height="20" fill="#000"/>
<text x="2.2" y="674" font-family="Liberation Sans, sans-serif" font-size="12" fill="#0a0a1e">2025</text>
<rect x="37.2" y="657" width="1.1" height="20" fill="#000"/>
<text x="38.6" y="674" font-family="Liberation Sans, sans-serif" font-size="12" fill="#0a0a1e">Feb</text>
<rect x="80.3" y="657" width="1.1" height="20" fill="#000"/>
<text x="81.7" y="674" font-family="Liberation Sans, sans-serif" font-size="12" fill="#0a0a1e">Mar</text>
<rect x="125.8" y="657" width="1.1" height="20" fill="#000"/>
<text x="127.2" y="674" font-family="Liberation Sans, sans-serif" font-size="12" fill="#0a0a1e">Apr</text>
<rect x="169.1" y="657" width="1.1" height="20" fill="#000"/>
<text x="170.5" y="674" font-family="Liberation Sans, sans-serif" font-size="12" fill="#0a0a1e">May</text>
<rect x="212.1" y="657" width="1.1" height="20" fill="#000"/>
<text x="213.5" y="674" font-family="Liberation Sans, sans-serif" font-size="12" fill="#0a0a1e">Jun</text>
<rect x="257.9" y="657" width="1.1" height="20" fill="#000"/>
<text x="259.3" y="674" font-family="Liberation Sans, sans-serif" font-size="12" fill="#0a0a1e">Jul</text>
<rect x="308.2" y="657" width="1.1" height="20" fill="#000"/>
<text x="309.6" y="674" font-family="Liberation Sans, sans-serif" font-size="12" fill="#0a0a1e">Aug</text>
<rect x="353.2" y="657" width="1.1" height="20" fill="#000"/>
<text x="354.6" y="674" font-family="Liberation Sans, sans-serif" font-size="12" fill="#0a0a1e">Sep</text>
<rect x="395.9" y="657" width="1.1" height="20" fill="#000"/>
<text x="397.3" y="674" font-family="Liberation Sans, sans-serif" font-size="12" fill="#0a0a1e">Oct</text>
<rect x="446.1" y="657" width="1.1" height="20" fill="#000"/>
<text x="447.5" y="674" font-family="Liberation Sans, sans-serif" font-size="12" fill="#0a0a1e">Nov</text>
<rect x="488.9" y="657" width="1.1" height="20" fill="#000"/>
<text x="490.3" y="674" font-family="Liberation Sans, sans-serif" font-size="12" fill="#0a0a1e">Dec</text>
<rect x="539.2" y="657" width="1.1" height="20" fill="#000"/>
<text x="540.6" y="674" font-family="Liberation Sans, sans-serif" font-size="12" fill="#0a0a1e">2026</text>
<rect x="581.9" y="657" width="1.1" height="20" fill="#000"/>
<text x="583.3" y="674" font-family="Liberation Sans, sans-serif" font-size="12" fill="#0a0a1e">F</text>
<rect x="643" y="0" width="1" height="658" fill="#e8e8e8"/>
</svg></body></html>
